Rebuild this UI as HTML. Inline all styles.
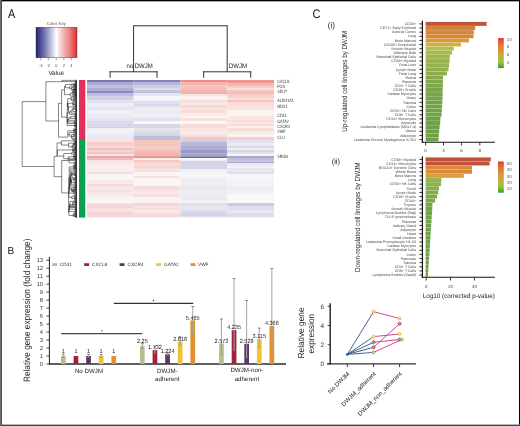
<!DOCTYPE html>
<html><head><meta charset="utf-8"><style>
html,body{margin:0;padding:0;background:#fff;}
body{width:520px;height:426px;overflow:hidden;}
svg{display:block;font-family:"Liberation Sans", sans-serif;opacity:0.999;text-rendering:geometricPrecision;}
</style></head><body>
<svg width="520" height="426" viewBox="0 0 520 426">
<rect x="0" y="0" width="520" height="426" fill="#fff"/>
<text transform="translate(8.1,17.8) scale(0.86,1)" font-size="12.6" fill="#111">A</text>
<defs><linearGradient id="ck" x1="0" x2="1" y1="0" y2="0"><stop offset="0" stop-color="#222270"/><stop offset="0.22" stop-color="#7a7ab4"/><stop offset="0.5" stop-color="#ffffff"/><stop offset="0.62" stop-color="#f4c8c8"/><stop offset="0.82" stop-color="#ec8080"/><stop offset="1" stop-color="#e02a2a"/></linearGradient><linearGradient id="cb" x1="0" x2="0" y1="0" y2="1"><stop offset="0" stop-color="#e0302a"/><stop offset="0.08" stop-color="#e4562e"/><stop offset="0.3" stop-color="#e0843c"/><stop offset="0.55" stop-color="#ccaa40"/><stop offset="0.8" stop-color="#9ec43c"/><stop offset="0.95" stop-color="#50a83a"/><stop offset="1" stop-color="#2e9a3a"/></linearGradient></defs>
<rect x="36.00" y="27.20" width="41.00" height="30.60" fill="url(#ck)" />
<rect x="36" y="27.2" width="41" height="30.6" fill="none" stroke="#333" stroke-width="0.4"/>
<text x="56.40" y="24.60" font-size="4.4" fill="#555" text-anchor="middle" >Color Key</text>
<line x1="40.70" y1="58.00" x2="40.70" y2="60.20" stroke="#444" stroke-width="0.5" />
<text x="40.70" y="66.60" font-size="4.3" fill="#555" text-anchor="middle" >-4</text>
<line x1="48.30" y1="58.00" x2="48.30" y2="60.20" stroke="#444" stroke-width="0.5" />
<text x="48.30" y="66.60" font-size="4.3" fill="#555" text-anchor="middle" >-2</text>
<line x1="56.30" y1="58.00" x2="56.30" y2="60.20" stroke="#444" stroke-width="0.5" />
<text x="56.30" y="66.60" font-size="4.3" fill="#555" text-anchor="middle" >0</text>
<line x1="63.90" y1="58.00" x2="63.90" y2="60.20" stroke="#444" stroke-width="0.5" />
<text x="63.90" y="66.60" font-size="4.3" fill="#555" text-anchor="middle" >2</text>
<line x1="71.30" y1="58.00" x2="71.30" y2="60.20" stroke="#444" stroke-width="0.5" />
<text x="71.30" y="66.60" font-size="4.3" fill="#555" text-anchor="middle" >4</text>
<text x="56.20" y="75.20" font-size="6.3" fill="#222" text-anchor="middle" >Value</text>
<line x1="133.60" y1="25.80" x2="227.20" y2="25.80" stroke="#333" stroke-width="1" />
<line x1="133.60" y1="25.30" x2="133.60" y2="72.00" stroke="#333" stroke-width="1" />
<line x1="227.20" y1="25.30" x2="227.20" y2="72.00" stroke="#333" stroke-width="1" />
<line x1="109.60" y1="71.80" x2="157.50" y2="71.80" stroke="#333" stroke-width="1" />
<line x1="110.10" y1="71.30" x2="110.10" y2="77.80" stroke="#333" stroke-width="1" />
<line x1="157.00" y1="71.30" x2="157.00" y2="77.80" stroke="#333" stroke-width="1" />
<line x1="203.20" y1="71.80" x2="251.20" y2="71.80" stroke="#333" stroke-width="1" />
<line x1="203.70" y1="71.30" x2="203.70" y2="77.80" stroke="#333" stroke-width="1" />
<line x1="250.70" y1="71.30" x2="250.70" y2="77.80" stroke="#333" stroke-width="1" />
<text x="126.40" y="67.80" font-size="6.5" fill="#222" text-anchor="start" textLength="26.4" lengthAdjust="spacingAndGlyphs">no DWJM</text>
<text x="228.80" y="67.80" font-size="6.5" fill="#222" text-anchor="start" textLength="18.4" lengthAdjust="spacingAndGlyphs">DWJM</text>
<defs><filter id="hb" x="-5%" y="-5%" width="110%" height="110%"><feGaussianBlur stdDeviation="0 0.45"/></filter><clipPath id="hc"><rect x="87" y="80" width="187" height="137.6"/></clipPath></defs>
<g clip-path="url(#hc)"><g filter="url(#hb)">
<rect x="87.00" y="80.00" width="46.75" height="2.05" fill="#7676b3" />
<rect x="87.00" y="82.00" width="46.75" height="3.05" fill="#ababd2" />
<rect x="87.00" y="85.00" width="46.75" height="3.05" fill="#bebedd" />
<rect x="87.00" y="88.00" width="46.75" height="3.05" fill="#afafd6" />
<rect x="87.00" y="91.00" width="46.75" height="2.05" fill="#8a8ac1" />
<rect x="87.00" y="93.00" width="46.75" height="3.05" fill="#bebedf" />
<rect x="87.00" y="96.00" width="46.75" height="4.05" fill="#d0d0e6" />
<rect x="87.00" y="100.00" width="46.75" height="3.05" fill="#e2e2ef" />
<rect x="87.00" y="103.00" width="46.75" height="4.05" fill="#edebf3" />
<rect x="87.00" y="107.00" width="46.75" height="3.05" fill="#e6e4f0" />
<rect x="87.00" y="110.00" width="46.75" height="4.05" fill="#f1eff5" />
<rect x="87.00" y="114.00" width="46.75" height="4.05" fill="#ebe9f2" />
<rect x="87.00" y="118.00" width="46.75" height="3.05" fill="#e6e4f0" />
<rect x="87.00" y="121.00" width="46.75" height="3.05" fill="#dbdaec" />
<rect x="87.00" y="124.00" width="46.75" height="3.05" fill="#d7d7ea" />
<rect x="87.00" y="127.00" width="46.75" height="1.05" fill="#d3d3e7" />
<rect x="87.00" y="128.00" width="46.75" height="6.05" fill="#f2f0f5" />
<rect x="87.00" y="134.00" width="46.75" height="6.05" fill="#eae8f1" />
<rect x="87.00" y="140.00" width="46.75" height="2.05" fill="#f9e2e2" />
<rect x="87.00" y="142.00" width="46.75" height="4.05" fill="#f5cccc" />
<rect x="87.00" y="146.00" width="46.75" height="2.05" fill="#f9dbdb" />
<rect x="87.00" y="148.00" width="46.75" height="2.05" fill="#f1bebe" />
<rect x="87.00" y="150.00" width="46.75" height="2.05" fill="#f7d4d4" />
<rect x="87.00" y="152.00" width="46.75" height="2.05" fill="#f1c5c5" />
<rect x="87.00" y="154.00" width="46.75" height="2.05" fill="#f9e2e2" />
<rect x="87.00" y="156.00" width="46.75" height="2.55" fill="#eea2a2" />
<rect x="87.00" y="158.50" width="46.75" height="1.55" fill="#f1b6b6" />
<rect x="87.00" y="160.00" width="46.75" height="3.05" fill="#f9e2e2" />
<rect x="87.00" y="163.00" width="46.75" height="3.05" fill="#faeaea" />
<rect x="87.00" y="166.00" width="46.75" height="6.05" fill="#f9eeee" />
<rect x="87.00" y="172.00" width="46.75" height="2.05" fill="#f7dbdb" />
<rect x="87.00" y="174.00" width="46.75" height="6.05" fill="#faf5f5" />
<rect x="87.00" y="180.00" width="46.75" height="4.05" fill="#f9eaea" />
<rect x="87.00" y="184.00" width="46.75" height="2.05" fill="#f7d7d7" />
<rect x="87.00" y="186.00" width="46.75" height="4.05" fill="#f9e6e6" />
<rect x="87.00" y="190.00" width="46.75" height="2.05" fill="#f7dfdf" />
<rect x="87.00" y="192.00" width="46.75" height="4.05" fill="#f9eaea" />
<rect x="87.00" y="196.00" width="46.75" height="4.05" fill="#faf1f1" />
<rect x="87.00" y="200.00" width="46.75" height="3.55" fill="#faf7f7" />
<rect x="87.00" y="203.50" width="46.75" height="4.55" fill="#f9d4d4" />
<rect x="87.00" y="208.00" width="46.75" height="4.05" fill="#f7e1e1" />
<rect x="87.00" y="212.00" width="46.75" height="2.05" fill="#f7d4d4" />
<rect x="87.00" y="214.00" width="46.75" height="3.65" fill="#f7d7d7" />
<rect x="133.75" y="80.00" width="46.75" height="2.05" fill="#8383ba" />
<rect x="133.75" y="82.00" width="46.75" height="3.05" fill="#b6b6d7" />
<rect x="133.75" y="85.00" width="46.75" height="3.05" fill="#cccce2" />
<rect x="133.75" y="88.00" width="46.75" height="2.05" fill="#dbdbec" />
<rect x="133.75" y="90.00" width="46.75" height="2.05" fill="#c5c5df" />
<rect x="133.75" y="92.00" width="46.75" height="1.05" fill="#bebedb" />
<rect x="133.75" y="93.00" width="46.75" height="3.05" fill="#e6e6ef" />
<rect x="133.75" y="96.00" width="46.75" height="3.05" fill="#f7f7f9" />
<rect x="133.75" y="99.00" width="46.75" height="2.05" fill="#f1f1f5" />
<rect x="133.75" y="101.00" width="46.75" height="3.05" fill="#dfdfee" />
<rect x="133.75" y="104.00" width="46.75" height="2.05" fill="#d9d9ea" />
<rect x="133.75" y="106.00" width="46.75" height="2.05" fill="#e6e5f0" />
<rect x="133.75" y="108.00" width="46.75" height="3.05" fill="#f0eef4" />
<rect x="133.75" y="111.00" width="46.75" height="3.05" fill="#eae8f1" />
<rect x="133.75" y="114.00" width="46.75" height="2.05" fill="#f3f1f6" />
<rect x="133.75" y="116.00" width="46.75" height="2.05" fill="#edebf3" />
<rect x="133.75" y="118.00" width="46.75" height="3.05" fill="#e2e2ee" />
<rect x="133.75" y="121.00" width="46.75" height="1.05" fill="#f5f5f7" />
<rect x="133.75" y="122.00" width="46.75" height="2.05" fill="#fafafa" />
<rect x="133.75" y="124.00" width="46.75" height="4.05" fill="#d7d7e8" />
<rect x="133.75" y="128.00" width="46.75" height="2.05" fill="#e6e6ef" />
<rect x="133.75" y="130.00" width="46.75" height="3.05" fill="#dfdfec" />
<rect x="133.75" y="133.00" width="46.75" height="3.05" fill="#d7d7e8" />
<rect x="133.75" y="136.00" width="46.75" height="4.05" fill="#bebedb" />
<rect x="133.75" y="140.00" width="46.75" height="6.05" fill="#f5c5be" />
<rect x="133.75" y="146.00" width="46.75" height="4.05" fill="#f5ccc5" />
<rect x="133.75" y="150.00" width="46.75" height="3.05" fill="#f3beb6" />
<rect x="133.75" y="153.00" width="46.75" height="3.05" fill="#f1b6af" />
<rect x="133.75" y="156.00" width="46.75" height="2.35" fill="#ef978e" />
<rect x="133.75" y="158.30" width="46.75" height="1.75" fill="#fbf5f3" />
<rect x="133.75" y="160.00" width="46.75" height="2.05" fill="#f5c9c1" />
<rect x="133.75" y="162.00" width="46.75" height="2.05" fill="#f7d4d0" />
<rect x="133.75" y="164.00" width="46.75" height="2.05" fill="#f9dbd7" />
<rect x="133.75" y="166.00" width="46.75" height="2.05" fill="#f7d4d0" />
<rect x="133.75" y="168.00" width="46.75" height="2.05" fill="#f9e2df" />
<rect x="133.75" y="170.00" width="46.75" height="2.05" fill="#f7dfdf" />
<rect x="133.75" y="172.00" width="46.75" height="4.05" fill="#faf5f3" />
<rect x="133.75" y="176.00" width="46.75" height="2.05" fill="#f7e2e2" />
<rect x="133.75" y="178.00" width="46.75" height="8.05" fill="#f9f5f3" />
<rect x="133.75" y="186.00" width="46.75" height="4.05" fill="#f7dbdb" />
<rect x="133.75" y="190.00" width="46.75" height="4.05" fill="#f9e6e6" />
<rect x="133.75" y="194.00" width="46.75" height="3.05" fill="#f7dfdf" />
<rect x="133.75" y="197.00" width="46.75" height="6.05" fill="#faf3f3" />
<rect x="133.75" y="203.00" width="46.75" height="3.05" fill="#f7d7d4" />
<rect x="133.75" y="206.00" width="46.75" height="2.05" fill="#f9e2e2" />
<rect x="133.75" y="208.00" width="46.75" height="2.05" fill="#f7dbdb" />
<rect x="133.75" y="210.00" width="46.75" height="3.05" fill="#f9e6e6" />
<rect x="133.75" y="213.00" width="46.75" height="4.65" fill="#f7dbdb" />
<rect x="180.50" y="80.00" width="46.75" height="2.05" fill="#f18a8a" />
<rect x="180.50" y="82.00" width="46.75" height="3.05" fill="#f5b6af" />
<rect x="180.50" y="85.00" width="46.75" height="3.05" fill="#f5c5be" />
<rect x="180.50" y="88.00" width="46.75" height="2.05" fill="#f5beb6" />
<rect x="180.50" y="90.00" width="46.75" height="3.05" fill="#f3b6af" />
<rect x="180.50" y="93.00" width="46.75" height="1.05" fill="#f1afa8" />
<rect x="180.50" y="94.00" width="46.75" height="2.05" fill="#fae7e4" />
<rect x="180.50" y="96.00" width="46.75" height="4.05" fill="#fbf3f2" />
<rect x="180.50" y="100.00" width="46.75" height="3.05" fill="#f8ddda" />
<rect x="180.50" y="103.00" width="46.75" height="2.05" fill="#faeae7" />
<rect x="180.50" y="105.00" width="46.75" height="3.05" fill="#f6d7d4" />
<rect x="180.50" y="108.00" width="46.75" height="2.05" fill="#fae7e4" />
<rect x="180.50" y="110.00" width="46.75" height="3.05" fill="#f8dad7" />
<rect x="180.50" y="113.00" width="46.75" height="3.05" fill="#faeae7" />
<rect x="180.50" y="116.00" width="46.75" height="2.05" fill="#fbf5f3" />
<rect x="180.50" y="118.00" width="46.75" height="3.05" fill="#f8e1dd" />
<rect x="180.50" y="121.00" width="46.75" height="3.05" fill="#fbf6f5" />
<rect x="180.50" y="124.00" width="46.75" height="4.05" fill="#f8dad7" />
<rect x="180.50" y="128.00" width="46.75" height="3.05" fill="#fae4e1" />
<rect x="180.50" y="131.00" width="46.75" height="4.05" fill="#faeae7" />
<rect x="180.50" y="135.00" width="46.75" height="2.05" fill="#f8dad7" />
<rect x="180.50" y="137.00" width="46.75" height="3.05" fill="#f5c5c1" />
<rect x="180.50" y="140.00" width="46.75" height="2.05" fill="#cecee4" />
<rect x="180.50" y="142.00" width="46.75" height="4.05" fill="#b8b8d8" />
<rect x="180.50" y="146.00" width="46.75" height="3.45" fill="#adadd2" />
<rect x="180.50" y="149.40" width="46.75" height="3.95" fill="#9999c7" />
<rect x="180.50" y="153.30" width="46.75" height="3.35" fill="#a2a2cc" />
<rect x="180.50" y="156.60" width="46.75" height="1.45" fill="#5a5aa0" />
<rect x="180.50" y="157.90" width="46.75" height="2.75" fill="#f9f9fa" />
<rect x="180.50" y="160.60" width="46.75" height="8.45" fill="#d4d4e6" />
<rect x="180.50" y="169.00" width="46.75" height="3.05" fill="#f1f1f5" />
<rect x="180.50" y="172.00" width="46.75" height="6.05" fill="#f8f5f7" />
<rect x="180.50" y="178.00" width="46.75" height="8.05" fill="#efedf3" />
<rect x="180.50" y="186.00" width="46.75" height="4.05" fill="#e8e6ef" />
<rect x="180.50" y="190.00" width="46.75" height="6.05" fill="#efedf3" />
<rect x="180.50" y="196.00" width="46.75" height="4.05" fill="#ece9f1" />
<rect x="180.50" y="200.00" width="46.75" height="3.05" fill="#f5f2f5" />
<rect x="180.50" y="203.00" width="46.75" height="3.05" fill="#dfdfee" />
<rect x="180.50" y="206.00" width="46.75" height="4.05" fill="#e6e6ef" />
<rect x="180.50" y="210.00" width="46.75" height="3.05" fill="#dbdbec" />
<rect x="180.50" y="213.00" width="46.75" height="3.05" fill="#d4d4e8" />
<rect x="180.50" y="216.00" width="46.75" height="1.65" fill="#e2e2ee" />
<rect x="227.25" y="80.00" width="46.75" height="3.05" fill="#f19292" />
<rect x="227.25" y="83.00" width="46.75" height="3.05" fill="#f5b6af" />
<rect x="227.25" y="86.00" width="46.75" height="2.05" fill="#f7ccc9" />
<rect x="227.25" y="88.00" width="46.75" height="2.05" fill="#f9dfdb" />
<rect x="227.25" y="90.00" width="46.75" height="2.05" fill="#f7c5c1" />
<rect x="227.25" y="92.00" width="46.75" height="2.05" fill="#f5bab6" />
<rect x="227.25" y="94.00" width="46.75" height="4.05" fill="#f7d0cc" />
<rect x="227.25" y="98.00" width="46.75" height="2.05" fill="#f9dfdb" />
<rect x="227.25" y="100.00" width="46.75" height="2.05" fill="#f5c1be" />
<rect x="227.25" y="102.00" width="46.75" height="4.05" fill="#f9dbd7" />
<rect x="227.25" y="106.00" width="46.75" height="4.05" fill="#f9e2df" />
<rect x="227.25" y="110.00" width="46.75" height="6.05" fill="#faf3f1" />
<rect x="227.25" y="116.00" width="46.75" height="4.05" fill="#f9e6e2" />
<rect x="227.25" y="120.00" width="46.75" height="2.05" fill="#f7dfdb" />
<rect x="227.25" y="122.00" width="46.75" height="2.05" fill="#f9e6e2" />
<rect x="227.25" y="124.00" width="46.75" height="2.05" fill="#f7dbd7" />
<rect x="227.25" y="126.00" width="46.75" height="2.05" fill="#faf1ef" />
<rect x="227.25" y="128.00" width="46.75" height="3.05" fill="#f7dbd7" />
<rect x="227.25" y="131.00" width="46.75" height="3.05" fill="#f9eae6" />
<rect x="227.25" y="134.00" width="46.75" height="3.05" fill="#faf5f3" />
<rect x="227.25" y="137.00" width="46.75" height="3.05" fill="#f7ccc9" />
<rect x="227.25" y="140.00" width="46.75" height="3.05" fill="#e2e2ef" />
<rect x="227.25" y="143.00" width="46.75" height="3.05" fill="#eaeaf1" />
<rect x="227.25" y="146.00" width="46.75" height="2.05" fill="#dbdbec" />
<rect x="227.25" y="148.00" width="46.75" height="2.05" fill="#eeeef3" />
<rect x="227.25" y="150.00" width="46.75" height="2.05" fill="#d4d4e6" />
<rect x="227.25" y="152.00" width="46.75" height="2.05" fill="#e2e2ee" />
<rect x="227.25" y="154.00" width="46.75" height="2.05" fill="#f5f5f7" />
<rect x="227.25" y="156.00" width="46.75" height="2.05" fill="#a8a8d0" />
<rect x="227.25" y="158.00" width="46.75" height="2.05" fill="#bebedb" />
<rect x="227.25" y="160.00" width="46.75" height="2.05" fill="#c5c5df" />
<rect x="227.25" y="162.00" width="46.75" height="1.05" fill="#a8a8d0" />
<rect x="227.25" y="163.00" width="46.75" height="3.05" fill="#eaeaf1" />
<rect x="227.25" y="166.00" width="46.75" height="2.05" fill="#f1f1f5" />
<rect x="227.25" y="168.00" width="46.75" height="4.05" fill="#e6e6ef" />
<rect x="227.25" y="172.00" width="46.75" height="2.05" fill="#dfdfee" />
<rect x="227.25" y="174.00" width="46.75" height="6.05" fill="#f8f5f7" />
<rect x="227.25" y="180.00" width="46.75" height="6.05" fill="#f5f2f5" />
<rect x="227.25" y="186.00" width="46.75" height="4.05" fill="#efedf3" />
<rect x="227.25" y="190.00" width="46.75" height="4.05" fill="#f2eff4" />
<rect x="227.25" y="194.00" width="46.75" height="6.05" fill="#f9f7f8" />
<rect x="227.25" y="200.00" width="46.75" height="3.05" fill="#faf9fa" />
<rect x="227.25" y="203.00" width="46.75" height="3.05" fill="#cccce4" />
<rect x="227.25" y="206.00" width="46.75" height="4.05" fill="#dfdfee" />
<rect x="227.25" y="210.00" width="46.75" height="3.05" fill="#e6e6ef" />
<rect x="227.25" y="213.00" width="46.75" height="3.05" fill="#dbdbec" />
<rect x="227.25" y="216.00" width="46.75" height="1.65" fill="#dfdfee" />
</g></g>
<rect x="79.00" y="80.00" width="6.30" height="60.00" fill="#e2305a" />
<rect x="79.00" y="140.00" width="6.30" height="77.60" fill="#0e9f52" />
<text transform="translate(277.2,83.2) scale(0.8,1)" font-size="4.7" fill="#333">CXCL8</text>
<text transform="translate(277.2,88.1) scale(0.8,1)" font-size="4.7" fill="#333">FOS</text>
<text transform="translate(277.2,92.7) scale(0.8,1)" font-size="4.7" fill="#333">SELP</text>
<text transform="translate(277.2,102.3) scale(0.8,1)" font-size="4.7" fill="#333">ALDH1A1</text>
<text transform="translate(277.2,108.3) scale(0.8,1)" font-size="4.7" fill="#333">MDS1</text>
<text transform="translate(277.2,117.0) scale(0.8,1)" font-size="4.7" fill="#333">CD41</text>
<text transform="translate(277.2,122.6) scale(0.8,1)" font-size="4.7" fill="#333">GATA2</text>
<text transform="translate(277.2,128.0) scale(0.8,1)" font-size="4.7" fill="#333">CXCR4</text>
<text transform="translate(277.2,133.1) scale(0.8,1)" font-size="4.7" fill="#333">VWF</text>
<text transform="translate(277.2,138.6) scale(0.8,1)" font-size="4.7" fill="#333">CLU</text>
<text transform="translate(277.2,158.2) scale(0.8,1)" font-size="4.7" fill="#333">SRGN</text>
<g stroke="#000" stroke-width="0.48" stroke-linecap="butt">
<line x1="75.57" y1="80.18" x2="75.57" y2="80.53"/>
<line x1="75.57" y1="80.18" x2="76.90" y2="80.18"/>
<line x1="75.57" y1="80.53" x2="76.90" y2="80.53"/>
<line x1="76.21" y1="80.89" x2="76.21" y2="81.24"/>
<line x1="76.21" y1="80.89" x2="76.90" y2="80.89"/>
<line x1="76.21" y1="81.24" x2="76.90" y2="81.24"/>
<line x1="76.44" y1="81.96" x2="76.44" y2="82.31"/>
<line x1="76.44" y1="81.96" x2="76.90" y2="81.96"/>
<line x1="76.44" y1="82.31" x2="76.90" y2="82.31"/>
<line x1="76.09" y1="82.13" x2="76.09" y2="82.67"/>
<line x1="76.09" y1="82.13" x2="76.44" y2="82.13"/>
<line x1="76.09" y1="82.67" x2="76.90" y2="82.67"/>
<line x1="75.74" y1="82.40" x2="75.74" y2="83.02"/>
<line x1="75.74" y1="82.40" x2="76.09" y2="82.40"/>
<line x1="75.74" y1="83.02" x2="76.90" y2="83.02"/>
<line x1="75.39" y1="81.60" x2="75.39" y2="82.71"/>
<line x1="75.39" y1="81.60" x2="76.90" y2="81.60"/>
<line x1="75.39" y1="82.71" x2="75.74" y2="82.71"/>
<line x1="75.04" y1="81.07" x2="75.04" y2="82.16"/>
<line x1="75.04" y1="81.07" x2="76.21" y2="81.07"/>
<line x1="75.04" y1="82.16" x2="75.39" y2="82.16"/>
<line x1="62.00" y1="80.36" x2="62.00" y2="81.70"/>
<line x1="62.00" y1="80.36" x2="75.57" y2="80.36"/>
<line x1="62.00" y1="81.61" x2="75.04" y2="81.61"/>
<line x1="75.85" y1="83.37" x2="75.85" y2="83.70"/>
<line x1="75.85" y1="83.37" x2="76.90" y2="83.37"/>
<line x1="75.85" y1="83.70" x2="76.90" y2="83.70"/>
<line x1="75.28" y1="83.54" x2="75.28" y2="84.04"/>
<line x1="75.28" y1="83.54" x2="75.85" y2="83.54"/>
<line x1="75.28" y1="84.04" x2="76.90" y2="84.04"/>
<line x1="73.58" y1="83.79" x2="73.58" y2="84.38"/>
<line x1="73.58" y1="83.79" x2="75.28" y2="83.79"/>
<line x1="73.58" y1="84.38" x2="76.90" y2="84.38"/>
<line x1="75.55" y1="85.05" x2="75.55" y2="85.39"/>
<line x1="75.55" y1="85.05" x2="76.90" y2="85.05"/>
<line x1="75.55" y1="85.39" x2="76.90" y2="85.39"/>
<line x1="74.01" y1="85.22" x2="74.01" y2="85.72"/>
<line x1="74.01" y1="85.22" x2="75.55" y2="85.22"/>
<line x1="74.01" y1="85.72" x2="76.90" y2="85.72"/>
<line x1="73.66" y1="84.71" x2="73.66" y2="85.47"/>
<line x1="73.66" y1="84.71" x2="76.90" y2="84.71"/>
<line x1="73.66" y1="85.47" x2="74.01" y2="85.47"/>
<line x1="71.16" y1="84.08" x2="71.16" y2="85.09"/>
<line x1="71.16" y1="84.08" x2="73.58" y2="84.08"/>
<line x1="71.16" y1="85.09" x2="73.66" y2="85.09"/>
<line x1="75.48" y1="86.06" x2="75.48" y2="86.40"/>
<line x1="75.48" y1="86.06" x2="76.90" y2="86.06"/>
<line x1="75.48" y1="86.40" x2="76.90" y2="86.40"/>
<line x1="75.13" y1="86.23" x2="75.13" y2="86.73"/>
<line x1="75.13" y1="86.23" x2="75.48" y2="86.23"/>
<line x1="75.13" y1="86.73" x2="76.90" y2="86.73"/>
<line x1="73.85" y1="86.48" x2="73.85" y2="87.07"/>
<line x1="73.85" y1="86.48" x2="75.13" y2="86.48"/>
<line x1="73.85" y1="87.07" x2="76.90" y2="87.07"/>
<line x1="75.75" y1="87.41" x2="75.75" y2="87.74"/>
<line x1="75.75" y1="87.41" x2="76.90" y2="87.41"/>
<line x1="75.75" y1="87.74" x2="76.90" y2="87.74"/>
<line x1="75.51" y1="88.42" x2="75.51" y2="88.75"/>
<line x1="75.51" y1="88.42" x2="76.90" y2="88.42"/>
<line x1="75.51" y1="88.75" x2="76.90" y2="88.75"/>
<line x1="74.86" y1="88.08" x2="74.86" y2="88.59"/>
<line x1="74.86" y1="88.08" x2="76.90" y2="88.08"/>
<line x1="74.86" y1="88.59" x2="75.51" y2="88.59"/>
<line x1="74.10" y1="88.33" x2="74.10" y2="89.09"/>
<line x1="74.10" y1="88.33" x2="74.86" y2="88.33"/>
<line x1="74.10" y1="89.09" x2="76.90" y2="89.09"/>
<line x1="73.75" y1="88.71" x2="73.75" y2="89.43"/>
<line x1="73.75" y1="88.71" x2="74.10" y2="88.71"/>
<line x1="73.75" y1="89.43" x2="76.90" y2="89.43"/>
<line x1="73.40" y1="89.07" x2="73.40" y2="89.76"/>
<line x1="73.40" y1="89.07" x2="73.75" y2="89.07"/>
<line x1="73.40" y1="89.76" x2="76.90" y2="89.76"/>
<line x1="75.76" y1="90.44" x2="75.76" y2="90.77"/>
<line x1="75.76" y1="90.44" x2="76.90" y2="90.44"/>
<line x1="75.76" y1="90.77" x2="76.90" y2="90.77"/>
<line x1="73.89" y1="90.10" x2="73.89" y2="90.60"/>
<line x1="73.89" y1="90.10" x2="76.90" y2="90.10"/>
<line x1="73.89" y1="90.60" x2="75.76" y2="90.60"/>
<line x1="71.96" y1="89.42" x2="71.96" y2="90.35"/>
<line x1="71.96" y1="89.42" x2="73.40" y2="89.42"/>
<line x1="71.96" y1="90.35" x2="73.89" y2="90.35"/>
<line x1="71.61" y1="87.58" x2="71.61" y2="89.88"/>
<line x1="71.61" y1="87.58" x2="75.75" y2="87.58"/>
<line x1="71.61" y1="89.88" x2="71.96" y2="89.88"/>
<line x1="69.37" y1="86.78" x2="69.37" y2="88.73"/>
<line x1="69.37" y1="86.78" x2="73.85" y2="86.78"/>
<line x1="69.37" y1="88.73" x2="71.61" y2="88.73"/>
<line x1="65.45" y1="84.59" x2="65.45" y2="87.75"/>
<line x1="65.45" y1="84.59" x2="71.16" y2="84.59"/>
<line x1="65.45" y1="87.75" x2="69.37" y2="87.75"/>
<line x1="75.49" y1="91.45" x2="75.49" y2="91.78"/>
<line x1="75.49" y1="91.45" x2="76.90" y2="91.45"/>
<line x1="75.49" y1="91.78" x2="76.90" y2="91.78"/>
<line x1="75.42" y1="92.79" x2="75.42" y2="93.13"/>
<line x1="75.42" y1="92.79" x2="76.90" y2="92.79"/>
<line x1="75.42" y1="93.13" x2="76.90" y2="93.13"/>
<line x1="75.07" y1="92.46" x2="75.07" y2="92.96"/>
<line x1="75.07" y1="92.46" x2="76.90" y2="92.46"/>
<line x1="75.07" y1="92.96" x2="75.42" y2="92.96"/>
<line x1="74.72" y1="92.12" x2="74.72" y2="92.71"/>
<line x1="74.72" y1="92.12" x2="76.90" y2="92.12"/>
<line x1="74.72" y1="92.71" x2="75.07" y2="92.71"/>
<line x1="73.62" y1="91.61" x2="73.62" y2="92.41"/>
<line x1="73.62" y1="91.61" x2="75.49" y2="91.61"/>
<line x1="73.62" y1="92.41" x2="74.72" y2="92.41"/>
<line x1="75.07" y1="93.47" x2="75.07" y2="93.80"/>
<line x1="75.07" y1="93.47" x2="76.90" y2="93.47"/>
<line x1="75.07" y1="93.80" x2="76.90" y2="93.80"/>
<line x1="73.27" y1="92.01" x2="73.27" y2="93.63"/>
<line x1="73.27" y1="92.01" x2="73.62" y2="92.01"/>
<line x1="73.27" y1="93.63" x2="75.07" y2="93.63"/>
<line x1="72.92" y1="91.11" x2="72.92" y2="92.82"/>
<line x1="72.92" y1="91.11" x2="76.90" y2="91.11"/>
<line x1="72.92" y1="92.82" x2="73.27" y2="92.82"/>
<line x1="75.52" y1="94.48" x2="75.52" y2="94.81"/>
<line x1="75.52" y1="94.48" x2="76.90" y2="94.48"/>
<line x1="75.52" y1="94.81" x2="76.90" y2="94.81"/>
<line x1="73.88" y1="94.14" x2="73.88" y2="94.64"/>
<line x1="73.88" y1="94.14" x2="76.90" y2="94.14"/>
<line x1="73.88" y1="94.64" x2="75.52" y2="94.64"/>
<line x1="72.28" y1="91.97" x2="72.28" y2="94.39"/>
<line x1="72.28" y1="91.97" x2="72.92" y2="91.97"/>
<line x1="72.28" y1="94.39" x2="73.88" y2="94.39"/>
<line x1="75.65" y1="95.49" x2="75.65" y2="95.82"/>
<line x1="75.65" y1="95.49" x2="76.90" y2="95.49"/>
<line x1="75.65" y1="95.82" x2="76.90" y2="95.82"/>
<line x1="75.30" y1="95.65" x2="75.30" y2="96.16"/>
<line x1="75.30" y1="95.65" x2="75.65" y2="95.65"/>
<line x1="75.30" y1="96.16" x2="76.90" y2="96.16"/>
<line x1="74.95" y1="95.15" x2="74.95" y2="95.91"/>
<line x1="74.95" y1="95.15" x2="76.90" y2="95.15"/>
<line x1="74.95" y1="95.91" x2="75.30" y2="95.91"/>
<line x1="74.68" y1="96.50" x2="74.68" y2="96.83"/>
<line x1="74.68" y1="96.50" x2="76.90" y2="96.50"/>
<line x1="74.68" y1="96.83" x2="76.90" y2="96.83"/>
<line x1="73.05" y1="95.53" x2="73.05" y2="96.66"/>
<line x1="73.05" y1="95.53" x2="74.95" y2="95.53"/>
<line x1="73.05" y1="96.66" x2="74.68" y2="96.66"/>
<line x1="70.23" y1="93.18" x2="70.23" y2="96.10"/>
<line x1="70.23" y1="93.18" x2="72.28" y2="93.18"/>
<line x1="70.23" y1="96.10" x2="73.05" y2="96.10"/>
<line x1="64.50" y1="86.17" x2="64.50" y2="94.64"/>
<line x1="64.50" y1="86.17" x2="65.45" y2="86.17"/>
<line x1="64.50" y1="94.64" x2="70.23" y2="94.64"/>
<line x1="75.62" y1="97.17" x2="75.62" y2="97.51"/>
<line x1="75.62" y1="97.17" x2="76.90" y2="97.17"/>
<line x1="75.62" y1="97.51" x2="76.90" y2="97.51"/>
<line x1="76.12" y1="97.85" x2="76.12" y2="98.19"/>
<line x1="76.12" y1="97.85" x2="76.90" y2="97.85"/>
<line x1="76.12" y1="98.19" x2="76.90" y2="98.19"/>
<line x1="76.30" y1="98.86" x2="76.30" y2="99.20"/>
<line x1="76.30" y1="98.86" x2="76.90" y2="98.86"/>
<line x1="76.30" y1="99.20" x2="76.90" y2="99.20"/>
<line x1="75.95" y1="98.53" x2="75.95" y2="99.03"/>
<line x1="75.95" y1="98.53" x2="76.90" y2="98.53"/>
<line x1="75.95" y1="99.03" x2="76.30" y2="99.03"/>
<line x1="74.76" y1="98.78" x2="74.76" y2="99.54"/>
<line x1="74.76" y1="98.78" x2="75.95" y2="98.78"/>
<line x1="74.76" y1="99.54" x2="76.90" y2="99.54"/>
<line x1="74.27" y1="98.02" x2="74.27" y2="99.16"/>
<line x1="74.27" y1="98.02" x2="76.12" y2="98.02"/>
<line x1="74.27" y1="99.16" x2="74.76" y2="99.16"/>
<line x1="75.44" y1="99.88" x2="75.44" y2="100.22"/>
<line x1="75.44" y1="99.88" x2="76.90" y2="99.88"/>
<line x1="75.44" y1="100.22" x2="76.90" y2="100.22"/>
<line x1="73.81" y1="98.59" x2="73.81" y2="100.05"/>
<line x1="73.81" y1="98.59" x2="74.27" y2="98.59"/>
<line x1="73.81" y1="100.05" x2="75.44" y2="100.05"/>
<line x1="75.81" y1="100.56" x2="75.81" y2="100.90"/>
<line x1="75.81" y1="100.56" x2="76.90" y2="100.56"/>
<line x1="75.81" y1="100.90" x2="76.90" y2="100.90"/>
<line x1="71.64" y1="99.32" x2="71.64" y2="100.73"/>
<line x1="71.64" y1="99.32" x2="73.81" y2="99.32"/>
<line x1="71.64" y1="100.73" x2="75.81" y2="100.73"/>
<line x1="71.10" y1="97.34" x2="71.10" y2="100.02"/>
<line x1="71.10" y1="97.34" x2="75.62" y2="97.34"/>
<line x1="71.10" y1="100.02" x2="71.64" y2="100.02"/>
<line x1="76.11" y1="101.24" x2="76.11" y2="101.57"/>
<line x1="76.11" y1="101.24" x2="76.90" y2="101.24"/>
<line x1="76.11" y1="101.57" x2="76.90" y2="101.57"/>
<line x1="75.76" y1="101.41" x2="75.76" y2="101.91"/>
<line x1="75.76" y1="101.41" x2="76.11" y2="101.41"/>
<line x1="75.76" y1="101.91" x2="76.90" y2="101.91"/>
<line x1="75.79" y1="102.25" x2="75.79" y2="102.59"/>
<line x1="75.79" y1="102.25" x2="76.90" y2="102.25"/>
<line x1="75.79" y1="102.59" x2="76.90" y2="102.59"/>
<line x1="76.01" y1="103.27" x2="76.01" y2="103.61"/>
<line x1="76.01" y1="103.27" x2="76.90" y2="103.27"/>
<line x1="76.01" y1="103.61" x2="76.90" y2="103.61"/>
<line x1="75.66" y1="102.93" x2="75.66" y2="103.44"/>
<line x1="75.66" y1="102.93" x2="76.90" y2="102.93"/>
<line x1="75.66" y1="103.44" x2="76.01" y2="103.44"/>
<line x1="74.80" y1="102.42" x2="74.80" y2="103.18"/>
<line x1="74.80" y1="102.42" x2="75.79" y2="102.42"/>
<line x1="74.80" y1="103.18" x2="75.66" y2="103.18"/>
<line x1="75.92" y1="103.95" x2="75.92" y2="104.29"/>
<line x1="75.92" y1="103.95" x2="76.90" y2="103.95"/>
<line x1="75.92" y1="104.29" x2="76.90" y2="104.29"/>
<line x1="76.26" y1="104.96" x2="76.26" y2="105.30"/>
<line x1="76.26" y1="104.96" x2="76.90" y2="104.96"/>
<line x1="76.26" y1="105.30" x2="76.90" y2="105.30"/>
<line x1="75.91" y1="104.62" x2="75.91" y2="105.13"/>
<line x1="75.91" y1="104.62" x2="76.90" y2="104.62"/>
<line x1="75.91" y1="105.13" x2="76.26" y2="105.13"/>
<line x1="75.07" y1="104.12" x2="75.07" y2="104.88"/>
<line x1="75.07" y1="104.12" x2="75.92" y2="104.12"/>
<line x1="75.07" y1="104.88" x2="75.91" y2="104.88"/>
<line x1="73.54" y1="102.80" x2="73.54" y2="104.50"/>
<line x1="73.54" y1="102.80" x2="74.80" y2="102.80"/>
<line x1="73.54" y1="104.50" x2="75.07" y2="104.50"/>
<line x1="75.42" y1="105.64" x2="75.42" y2="105.98"/>
<line x1="75.42" y1="105.64" x2="76.90" y2="105.64"/>
<line x1="75.42" y1="105.98" x2="76.90" y2="105.98"/>
<line x1="75.00" y1="105.81" x2="75.00" y2="106.32"/>
<line x1="75.00" y1="105.81" x2="75.42" y2="105.81"/>
<line x1="75.00" y1="106.32" x2="76.90" y2="106.32"/>
<line x1="73.19" y1="103.65" x2="73.19" y2="106.07"/>
<line x1="73.19" y1="103.65" x2="73.54" y2="103.65"/>
<line x1="73.19" y1="106.07" x2="75.00" y2="106.07"/>
<line x1="72.84" y1="101.66" x2="72.84" y2="104.86"/>
<line x1="72.84" y1="101.66" x2="75.76" y2="101.66"/>
<line x1="72.84" y1="104.86" x2="73.19" y2="104.86"/>
<line x1="76.21" y1="107.34" x2="76.21" y2="107.67"/>
<line x1="76.21" y1="107.34" x2="76.90" y2="107.34"/>
<line x1="76.21" y1="107.67" x2="76.90" y2="107.67"/>
<line x1="75.86" y1="107.00" x2="75.86" y2="107.51"/>
<line x1="75.86" y1="107.00" x2="76.90" y2="107.00"/>
<line x1="75.86" y1="107.51" x2="76.21" y2="107.51"/>
<line x1="75.51" y1="106.66" x2="75.51" y2="107.25"/>
<line x1="75.51" y1="106.66" x2="76.90" y2="106.66"/>
<line x1="75.51" y1="107.25" x2="75.86" y2="107.25"/>
<line x1="76.19" y1="108.35" x2="76.19" y2="108.69"/>
<line x1="76.19" y1="108.35" x2="76.90" y2="108.35"/>
<line x1="76.19" y1="108.69" x2="76.90" y2="108.69"/>
<line x1="75.89" y1="109.03" x2="75.89" y2="109.37"/>
<line x1="75.89" y1="109.03" x2="76.90" y2="109.03"/>
<line x1="75.89" y1="109.37" x2="76.90" y2="109.37"/>
<line x1="76.36" y1="110.39" x2="76.36" y2="110.72"/>
<line x1="76.36" y1="110.39" x2="76.90" y2="110.39"/>
<line x1="76.36" y1="110.72" x2="76.90" y2="110.72"/>
<line x1="76.01" y1="110.05" x2="76.01" y2="110.56"/>
<line x1="76.01" y1="110.05" x2="76.90" y2="110.05"/>
<line x1="76.01" y1="110.56" x2="76.36" y2="110.56"/>
<line x1="75.58" y1="109.71" x2="75.58" y2="110.30"/>
<line x1="75.58" y1="109.71" x2="76.90" y2="109.71"/>
<line x1="75.58" y1="110.30" x2="76.01" y2="110.30"/>
<line x1="75.23" y1="109.20" x2="75.23" y2="110.00"/>
<line x1="75.23" y1="109.20" x2="75.89" y2="109.20"/>
<line x1="75.23" y1="110.00" x2="75.58" y2="110.00"/>
<line x1="74.88" y1="108.52" x2="74.88" y2="109.60"/>
<line x1="74.88" y1="108.52" x2="76.19" y2="108.52"/>
<line x1="74.88" y1="109.60" x2="75.23" y2="109.60"/>
<line x1="73.09" y1="108.01" x2="73.09" y2="109.06"/>
<line x1="73.09" y1="108.01" x2="76.90" y2="108.01"/>
<line x1="73.09" y1="109.06" x2="74.88" y2="109.06"/>
<line x1="76.26" y1="111.40" x2="76.26" y2="111.74"/>
<line x1="76.26" y1="111.40" x2="76.90" y2="111.40"/>
<line x1="76.26" y1="111.74" x2="76.90" y2="111.74"/>
<line x1="75.91" y1="111.57" x2="75.91" y2="112.08"/>
<line x1="75.91" y1="111.57" x2="76.26" y2="111.57"/>
<line x1="75.91" y1="112.08" x2="76.90" y2="112.08"/>
<line x1="75.18" y1="111.06" x2="75.18" y2="111.83"/>
<line x1="75.18" y1="111.06" x2="76.90" y2="111.06"/>
<line x1="75.18" y1="111.83" x2="75.91" y2="111.83"/>
<line x1="72.74" y1="108.54" x2="72.74" y2="111.45"/>
<line x1="72.74" y1="108.54" x2="73.09" y2="108.54"/>
<line x1="72.74" y1="111.45" x2="75.18" y2="111.45"/>
<line x1="76.25" y1="112.76" x2="76.25" y2="113.10"/>
<line x1="76.25" y1="112.76" x2="76.90" y2="112.76"/>
<line x1="76.25" y1="113.10" x2="76.90" y2="113.10"/>
<line x1="75.90" y1="112.42" x2="75.90" y2="112.93"/>
<line x1="75.90" y1="112.42" x2="76.90" y2="112.42"/>
<line x1="75.90" y1="112.93" x2="76.25" y2="112.93"/>
<line x1="75.55" y1="112.67" x2="75.55" y2="113.44"/>
<line x1="75.55" y1="112.67" x2="75.90" y2="112.67"/>
<line x1="75.55" y1="113.44" x2="76.90" y2="113.44"/>
<line x1="71.11" y1="109.99" x2="71.11" y2="113.05"/>
<line x1="71.11" y1="109.99" x2="72.74" y2="109.99"/>
<line x1="71.11" y1="113.05" x2="75.55" y2="113.05"/>
<line x1="75.95" y1="114.11" x2="75.95" y2="114.45"/>
<line x1="75.95" y1="114.11" x2="76.90" y2="114.11"/>
<line x1="75.95" y1="114.45" x2="76.90" y2="114.45"/>
<line x1="75.25" y1="113.78" x2="75.25" y2="114.28"/>
<line x1="75.25" y1="113.78" x2="76.90" y2="113.78"/>
<line x1="75.25" y1="114.28" x2="75.95" y2="114.28"/>
<line x1="74.54" y1="114.03" x2="74.54" y2="114.79"/>
<line x1="74.54" y1="114.03" x2="75.25" y2="114.03"/>
<line x1="74.54" y1="114.79" x2="76.90" y2="114.79"/>
<line x1="69.53" y1="111.52" x2="69.53" y2="114.41"/>
<line x1="69.53" y1="111.52" x2="71.11" y2="111.52"/>
<line x1="69.53" y1="114.41" x2="74.54" y2="114.41"/>
<line x1="68.40" y1="106.95" x2="68.40" y2="112.97"/>
<line x1="68.40" y1="106.95" x2="75.51" y2="106.95"/>
<line x1="68.40" y1="112.97" x2="69.53" y2="112.97"/>
<line x1="68.05" y1="103.26" x2="68.05" y2="109.96"/>
<line x1="68.05" y1="103.26" x2="72.84" y2="103.26"/>
<line x1="68.05" y1="109.96" x2="68.40" y2="109.96"/>
<line x1="67.70" y1="98.68" x2="67.70" y2="106.61"/>
<line x1="67.70" y1="98.68" x2="71.10" y2="98.68"/>
<line x1="67.70" y1="106.61" x2="68.05" y2="106.61"/>
<line x1="76.12" y1="115.47" x2="76.12" y2="115.81"/>
<line x1="76.12" y1="115.47" x2="76.90" y2="115.47"/>
<line x1="76.12" y1="115.81" x2="76.90" y2="115.81"/>
<line x1="75.77" y1="115.64" x2="75.77" y2="116.15"/>
<line x1="75.77" y1="115.64" x2="76.12" y2="115.64"/>
<line x1="75.77" y1="116.15" x2="76.90" y2="116.15"/>
<line x1="75.42" y1="115.13" x2="75.42" y2="115.89"/>
<line x1="75.42" y1="115.13" x2="76.90" y2="115.13"/>
<line x1="75.42" y1="115.89" x2="75.77" y2="115.89"/>
<line x1="75.07" y1="115.51" x2="75.07" y2="116.49"/>
<line x1="75.07" y1="115.51" x2="75.42" y2="115.51"/>
<line x1="75.07" y1="116.49" x2="76.90" y2="116.49"/>
<line x1="76.20" y1="116.83" x2="76.20" y2="117.16"/>
<line x1="76.20" y1="116.83" x2="76.90" y2="116.83"/>
<line x1="76.20" y1="117.16" x2="76.90" y2="117.16"/>
<line x1="75.78" y1="116.99" x2="75.78" y2="117.50"/>
<line x1="75.78" y1="116.99" x2="76.20" y2="116.99"/>
<line x1="75.78" y1="117.50" x2="76.90" y2="117.50"/>
<line x1="74.72" y1="116.00" x2="74.72" y2="117.25"/>
<line x1="74.72" y1="116.00" x2="75.07" y2="116.00"/>
<line x1="74.72" y1="117.25" x2="75.78" y2="117.25"/>
<line x1="75.63" y1="117.84" x2="75.63" y2="118.18"/>
<line x1="75.63" y1="117.84" x2="76.90" y2="117.84"/>
<line x1="75.63" y1="118.18" x2="76.90" y2="118.18"/>
<line x1="75.93" y1="118.52" x2="75.93" y2="118.86"/>
<line x1="75.93" y1="118.52" x2="76.90" y2="118.52"/>
<line x1="75.93" y1="118.86" x2="76.90" y2="118.86"/>
<line x1="76.01" y1="119.20" x2="76.01" y2="119.54"/>
<line x1="76.01" y1="119.20" x2="76.90" y2="119.20"/>
<line x1="76.01" y1="119.54" x2="76.90" y2="119.54"/>
<line x1="75.25" y1="118.69" x2="75.25" y2="119.37"/>
<line x1="75.25" y1="118.69" x2="75.93" y2="118.69"/>
<line x1="75.25" y1="119.37" x2="76.01" y2="119.37"/>
<line x1="74.90" y1="118.01" x2="74.90" y2="119.03"/>
<line x1="74.90" y1="118.01" x2="75.63" y2="118.01"/>
<line x1="74.90" y1="119.03" x2="75.25" y2="119.03"/>
<line x1="70.60" y1="116.62" x2="70.60" y2="118.52"/>
<line x1="70.60" y1="116.62" x2="74.72" y2="116.62"/>
<line x1="70.60" y1="118.52" x2="74.90" y2="118.52"/>
<line x1="76.25" y1="120.21" x2="76.25" y2="120.55"/>
<line x1="76.25" y1="120.21" x2="76.90" y2="120.21"/>
<line x1="76.25" y1="120.55" x2="76.90" y2="120.55"/>
<line x1="76.25" y1="120.89" x2="76.25" y2="121.23"/>
<line x1="76.25" y1="120.89" x2="76.90" y2="120.89"/>
<line x1="76.25" y1="121.23" x2="76.90" y2="121.23"/>
<line x1="75.90" y1="120.38" x2="75.90" y2="121.06"/>
<line x1="75.90" y1="120.38" x2="76.25" y2="120.38"/>
<line x1="75.90" y1="121.06" x2="76.25" y2="121.06"/>
<line x1="75.55" y1="119.88" x2="75.55" y2="120.72"/>
<line x1="75.55" y1="119.88" x2="76.90" y2="119.88"/>
<line x1="75.55" y1="120.72" x2="75.90" y2="120.72"/>
<line x1="68.92" y1="117.57" x2="68.92" y2="120.30"/>
<line x1="68.92" y1="117.57" x2="70.60" y2="117.57"/>
<line x1="68.92" y1="120.30" x2="75.55" y2="120.30"/>
<line x1="76.22" y1="122.25" x2="76.22" y2="122.59"/>
<line x1="76.22" y1="122.25" x2="76.90" y2="122.25"/>
<line x1="76.22" y1="122.59" x2="76.90" y2="122.59"/>
<line x1="75.54" y1="121.91" x2="75.54" y2="122.42"/>
<line x1="75.54" y1="121.91" x2="76.90" y2="121.91"/>
<line x1="75.54" y1="122.42" x2="76.22" y2="122.42"/>
<line x1="74.62" y1="122.16" x2="74.62" y2="122.93"/>
<line x1="74.62" y1="122.16" x2="75.54" y2="122.16"/>
<line x1="74.62" y1="122.93" x2="76.90" y2="122.93"/>
<line x1="73.87" y1="121.57" x2="73.87" y2="122.54"/>
<line x1="73.87" y1="121.57" x2="76.90" y2="121.57"/>
<line x1="73.87" y1="122.54" x2="74.62" y2="122.54"/>
<line x1="68.05" y1="118.94" x2="68.05" y2="122.06"/>
<line x1="68.05" y1="118.94" x2="68.92" y2="118.94"/>
<line x1="68.05" y1="122.06" x2="73.87" y2="122.06"/>
<line x1="76.04" y1="123.60" x2="76.04" y2="123.94"/>
<line x1="76.04" y1="123.60" x2="76.90" y2="123.60"/>
<line x1="76.04" y1="123.94" x2="76.90" y2="123.94"/>
<line x1="75.46" y1="123.77" x2="75.46" y2="124.28"/>
<line x1="75.46" y1="123.77" x2="76.04" y2="123.77"/>
<line x1="75.46" y1="124.28" x2="76.90" y2="124.28"/>
<line x1="74.48" y1="123.26" x2="74.48" y2="124.03"/>
<line x1="74.48" y1="123.26" x2="76.90" y2="123.26"/>
<line x1="74.48" y1="124.03" x2="75.46" y2="124.03"/>
<line x1="67.70" y1="120.50" x2="67.70" y2="123.65"/>
<line x1="67.70" y1="120.50" x2="68.05" y2="120.50"/>
<line x1="67.70" y1="123.65" x2="74.48" y2="123.65"/>
<line x1="67.35" y1="102.65" x2="67.35" y2="122.07"/>
<line x1="67.35" y1="102.65" x2="67.70" y2="102.65"/>
<line x1="67.35" y1="122.07" x2="67.70" y2="122.07"/>
<line x1="76.15" y1="124.96" x2="76.15" y2="125.30"/>
<line x1="76.15" y1="124.96" x2="76.90" y2="124.96"/>
<line x1="76.15" y1="125.30" x2="76.90" y2="125.30"/>
<line x1="75.36" y1="124.62" x2="75.36" y2="125.13"/>
<line x1="75.36" y1="124.62" x2="76.90" y2="124.62"/>
<line x1="75.36" y1="125.13" x2="76.15" y2="125.13"/>
<line x1="76.04" y1="125.97" x2="76.04" y2="126.31"/>
<line x1="76.04" y1="125.97" x2="76.90" y2="125.97"/>
<line x1="76.04" y1="126.31" x2="76.90" y2="126.31"/>
<line x1="76.22" y1="126.99" x2="76.22" y2="127.33"/>
<line x1="76.22" y1="126.99" x2="76.90" y2="126.99"/>
<line x1="76.22" y1="127.33" x2="76.90" y2="127.33"/>
<line x1="75.87" y1="126.65" x2="75.87" y2="127.16"/>
<line x1="75.87" y1="126.65" x2="76.90" y2="126.65"/>
<line x1="75.87" y1="127.16" x2="76.22" y2="127.16"/>
<line x1="75.07" y1="126.14" x2="75.07" y2="126.91"/>
<line x1="75.07" y1="126.14" x2="76.04" y2="126.14"/>
<line x1="75.07" y1="126.91" x2="75.87" y2="126.91"/>
<line x1="74.72" y1="125.64" x2="74.72" y2="126.53"/>
<line x1="74.72" y1="125.64" x2="76.90" y2="125.64"/>
<line x1="74.72" y1="126.53" x2="75.07" y2="126.53"/>
<line x1="74.37" y1="124.87" x2="74.37" y2="126.08"/>
<line x1="74.37" y1="124.87" x2="75.36" y2="124.87"/>
<line x1="74.37" y1="126.08" x2="74.72" y2="126.08"/>
<line x1="67.00" y1="112.36" x2="67.00" y2="125.48"/>
<line x1="67.00" y1="112.36" x2="67.35" y2="112.36"/>
<line x1="67.00" y1="125.48" x2="74.37" y2="125.48"/>
<line x1="61.60" y1="89.80" x2="61.60" y2="117.20"/>
<line x1="61.60" y1="89.80" x2="64.50" y2="89.80"/>
<line x1="61.60" y1="117.20" x2="67.00" y2="117.20"/>
<line x1="76.18" y1="127.67" x2="76.18" y2="128.01"/>
<line x1="76.18" y1="127.67" x2="76.90" y2="127.67"/>
<line x1="76.18" y1="128.01" x2="76.90" y2="128.01"/>
<line x1="75.83" y1="127.84" x2="75.83" y2="128.34"/>
<line x1="75.83" y1="127.84" x2="76.18" y2="127.84"/>
<line x1="75.83" y1="128.34" x2="76.90" y2="128.34"/>
<line x1="76.52" y1="129.02" x2="76.52" y2="129.36"/>
<line x1="76.52" y1="129.02" x2="76.90" y2="129.02"/>
<line x1="76.52" y1="129.36" x2="76.90" y2="129.36"/>
<line x1="76.17" y1="129.19" x2="76.17" y2="129.70"/>
<line x1="76.17" y1="129.19" x2="76.52" y2="129.19"/>
<line x1="76.17" y1="129.70" x2="76.90" y2="129.70"/>
<line x1="75.82" y1="128.68" x2="75.82" y2="129.44"/>
<line x1="75.82" y1="128.68" x2="76.90" y2="128.68"/>
<line x1="75.82" y1="129.44" x2="76.17" y2="129.44"/>
<line x1="75.47" y1="129.06" x2="75.47" y2="130.03"/>
<line x1="75.47" y1="129.06" x2="75.82" y2="129.06"/>
<line x1="75.47" y1="130.03" x2="76.90" y2="130.03"/>
<line x1="75.86" y1="130.37" x2="75.86" y2="130.71"/>
<line x1="75.86" y1="130.37" x2="76.90" y2="130.37"/>
<line x1="75.86" y1="130.71" x2="76.90" y2="130.71"/>
<line x1="75.12" y1="129.55" x2="75.12" y2="130.54"/>
<line x1="75.12" y1="129.55" x2="75.47" y2="129.55"/>
<line x1="75.12" y1="130.54" x2="75.86" y2="130.54"/>
<line x1="74.15" y1="128.09" x2="74.15" y2="130.04"/>
<line x1="74.15" y1="128.09" x2="75.83" y2="128.09"/>
<line x1="74.15" y1="130.04" x2="75.12" y2="130.04"/>
<line x1="73.80" y1="129.07" x2="73.80" y2="131.05"/>
<line x1="73.80" y1="129.07" x2="74.15" y2="129.07"/>
<line x1="73.80" y1="131.05" x2="76.90" y2="131.05"/>
<line x1="75.71" y1="131.39" x2="75.71" y2="131.72"/>
<line x1="75.71" y1="131.39" x2="76.90" y2="131.39"/>
<line x1="75.71" y1="131.72" x2="76.90" y2="131.72"/>
<line x1="73.45" y1="130.06" x2="73.45" y2="131.55"/>
<line x1="73.45" y1="130.06" x2="73.80" y2="130.06"/>
<line x1="73.45" y1="131.55" x2="75.71" y2="131.55"/>
<line x1="76.10" y1="132.06" x2="76.10" y2="132.40"/>
<line x1="76.10" y1="132.06" x2="76.90" y2="132.06"/>
<line x1="76.10" y1="132.40" x2="76.90" y2="132.40"/>
<line x1="75.84" y1="132.74" x2="75.84" y2="133.07"/>
<line x1="75.84" y1="132.74" x2="76.90" y2="132.74"/>
<line x1="75.84" y1="133.07" x2="76.90" y2="133.07"/>
<line x1="75.04" y1="132.23" x2="75.04" y2="132.91"/>
<line x1="75.04" y1="132.23" x2="76.10" y2="132.23"/>
<line x1="75.04" y1="132.91" x2="75.84" y2="132.91"/>
<line x1="76.14" y1="133.41" x2="76.14" y2="133.75"/>
<line x1="76.14" y1="133.41" x2="76.90" y2="133.41"/>
<line x1="76.14" y1="133.75" x2="76.90" y2="133.75"/>
<line x1="74.89" y1="133.58" x2="74.89" y2="134.09"/>
<line x1="74.89" y1="133.58" x2="76.14" y2="133.58"/>
<line x1="74.89" y1="134.09" x2="76.90" y2="134.09"/>
<line x1="76.14" y1="134.43" x2="76.14" y2="134.76"/>
<line x1="76.14" y1="134.43" x2="76.90" y2="134.43"/>
<line x1="76.14" y1="134.76" x2="76.90" y2="134.76"/>
<line x1="75.79" y1="134.59" x2="75.79" y2="135.10"/>
<line x1="75.79" y1="134.59" x2="76.14" y2="134.59"/>
<line x1="75.79" y1="135.10" x2="76.90" y2="135.10"/>
<line x1="76.17" y1="135.44" x2="76.17" y2="135.78"/>
<line x1="76.17" y1="135.44" x2="76.90" y2="135.44"/>
<line x1="76.17" y1="135.78" x2="76.90" y2="135.78"/>
<line x1="73.97" y1="134.85" x2="73.97" y2="135.61"/>
<line x1="73.97" y1="134.85" x2="75.79" y2="134.85"/>
<line x1="73.97" y1="135.61" x2="76.17" y2="135.61"/>
<line x1="73.31" y1="133.83" x2="73.31" y2="135.23"/>
<line x1="73.31" y1="133.83" x2="74.89" y2="133.83"/>
<line x1="73.31" y1="135.23" x2="73.97" y2="135.23"/>
<line x1="75.81" y1="136.11" x2="75.81" y2="136.45"/>
<line x1="75.81" y1="136.11" x2="76.90" y2="136.11"/>
<line x1="75.81" y1="136.45" x2="76.90" y2="136.45"/>
<line x1="76.33" y1="137.13" x2="76.33" y2="137.47"/>
<line x1="76.33" y1="137.13" x2="76.90" y2="137.13"/>
<line x1="76.33" y1="137.47" x2="76.90" y2="137.47"/>
<line x1="75.98" y1="136.79" x2="75.98" y2="137.30"/>
<line x1="75.98" y1="136.79" x2="76.90" y2="136.79"/>
<line x1="75.98" y1="137.30" x2="76.33" y2="137.30"/>
<line x1="74.08" y1="136.28" x2="74.08" y2="137.04"/>
<line x1="74.08" y1="136.28" x2="75.81" y2="136.28"/>
<line x1="74.08" y1="137.04" x2="75.98" y2="137.04"/>
<line x1="76.36" y1="138.14" x2="76.36" y2="138.48"/>
<line x1="76.36" y1="138.14" x2="76.90" y2="138.14"/>
<line x1="76.36" y1="138.48" x2="76.90" y2="138.48"/>
<line x1="76.01" y1="137.80" x2="76.01" y2="138.31"/>
<line x1="76.01" y1="137.80" x2="76.90" y2="137.80"/>
<line x1="76.01" y1="138.31" x2="76.36" y2="138.31"/>
<line x1="75.82" y1="138.82" x2="75.82" y2="139.16"/>
<line x1="75.82" y1="138.82" x2="76.90" y2="138.82"/>
<line x1="75.82" y1="139.16" x2="76.90" y2="139.16"/>
<line x1="75.47" y1="138.06" x2="75.47" y2="138.99"/>
<line x1="75.47" y1="138.06" x2="76.01" y2="138.06"/>
<line x1="75.47" y1="138.99" x2="75.82" y2="138.99"/>
<line x1="76.11" y1="139.49" x2="76.11" y2="139.83"/>
<line x1="76.11" y1="139.49" x2="76.90" y2="139.49"/>
<line x1="76.11" y1="139.83" x2="76.90" y2="139.83"/>
<line x1="73.36" y1="138.52" x2="73.36" y2="139.66"/>
<line x1="73.36" y1="138.52" x2="75.47" y2="138.52"/>
<line x1="73.36" y1="139.66" x2="76.11" y2="139.66"/>
<line x1="72.07" y1="136.66" x2="72.07" y2="139.09"/>
<line x1="72.07" y1="136.66" x2="74.08" y2="136.66"/>
<line x1="72.07" y1="139.09" x2="73.36" y2="139.09"/>
<line x1="71.46" y1="134.53" x2="71.46" y2="137.88"/>
<line x1="71.46" y1="134.53" x2="73.31" y2="134.53"/>
<line x1="71.46" y1="137.88" x2="72.07" y2="137.88"/>
<line x1="69.29" y1="132.57" x2="69.29" y2="136.20"/>
<line x1="69.29" y1="132.57" x2="75.04" y2="132.57"/>
<line x1="69.29" y1="136.20" x2="71.46" y2="136.20"/>
<line x1="67.80" y1="130.81" x2="67.80" y2="137.10"/>
<line x1="67.80" y1="130.81" x2="73.45" y2="130.81"/>
<line x1="67.80" y1="134.39" x2="69.29" y2="134.39"/>
<line x1="58.50" y1="103.30" x2="58.50" y2="137.10"/>
<line x1="58.50" y1="103.30" x2="61.60" y2="103.30"/>
<line x1="58.50" y1="137.10" x2="67.80" y2="137.10"/>
<line x1="45.90" y1="81.70" x2="45.90" y2="121.00"/>
<line x1="45.90" y1="81.70" x2="62.00" y2="81.70"/>
<line x1="45.90" y1="121.00" x2="58.50" y2="121.00"/>
<line x1="75.74" y1="140.17" x2="75.74" y2="140.51"/>
<line x1="75.74" y1="140.17" x2="76.90" y2="140.17"/>
<line x1="75.74" y1="140.51" x2="76.90" y2="140.51"/>
<line x1="75.73" y1="140.85" x2="75.73" y2="141.19"/>
<line x1="75.73" y1="140.85" x2="76.90" y2="140.85"/>
<line x1="75.73" y1="141.19" x2="76.90" y2="141.19"/>
<line x1="75.38" y1="141.53" x2="75.38" y2="141.86"/>
<line x1="75.38" y1="141.53" x2="76.90" y2="141.53"/>
<line x1="75.38" y1="141.86" x2="76.90" y2="141.86"/>
<line x1="75.03" y1="141.02" x2="75.03" y2="141.69"/>
<line x1="75.03" y1="141.02" x2="75.73" y2="141.02"/>
<line x1="75.03" y1="141.69" x2="75.38" y2="141.69"/>
<line x1="73.78" y1="140.34" x2="73.78" y2="141.36"/>
<line x1="73.78" y1="140.34" x2="75.74" y2="140.34"/>
<line x1="73.78" y1="141.36" x2="75.03" y2="141.36"/>
<line x1="75.94" y1="142.54" x2="75.94" y2="142.88"/>
<line x1="75.94" y1="142.54" x2="76.90" y2="142.54"/>
<line x1="75.94" y1="142.88" x2="76.90" y2="142.88"/>
<line x1="75.16" y1="142.20" x2="75.16" y2="142.71"/>
<line x1="75.16" y1="142.20" x2="76.90" y2="142.20"/>
<line x1="75.16" y1="142.71" x2="75.94" y2="142.71"/>
<line x1="74.79" y1="142.46" x2="74.79" y2="143.22"/>
<line x1="74.79" y1="142.46" x2="75.16" y2="142.46"/>
<line x1="74.79" y1="143.22" x2="76.90" y2="143.22"/>
<line x1="73.70" y1="142.84" x2="73.70" y2="143.56"/>
<line x1="73.70" y1="142.84" x2="74.79" y2="142.84"/>
<line x1="73.70" y1="143.56" x2="76.90" y2="143.56"/>
<line x1="75.55" y1="144.58" x2="75.55" y2="144.92"/>
<line x1="75.55" y1="144.58" x2="76.90" y2="144.58"/>
<line x1="75.55" y1="144.92" x2="76.90" y2="144.92"/>
<line x1="75.11" y1="144.75" x2="75.11" y2="145.25"/>
<line x1="75.11" y1="144.75" x2="75.55" y2="144.75"/>
<line x1="75.11" y1="145.25" x2="76.90" y2="145.25"/>
<line x1="74.76" y1="144.24" x2="74.76" y2="145.00"/>
<line x1="74.76" y1="144.24" x2="76.90" y2="144.24"/>
<line x1="74.76" y1="145.00" x2="75.11" y2="145.00"/>
<line x1="73.66" y1="143.90" x2="73.66" y2="144.62"/>
<line x1="73.66" y1="143.90" x2="76.90" y2="143.90"/>
<line x1="73.66" y1="144.62" x2="74.76" y2="144.62"/>
<line x1="75.43" y1="145.59" x2="75.43" y2="145.93"/>
<line x1="75.43" y1="145.59" x2="76.90" y2="145.59"/>
<line x1="75.43" y1="145.93" x2="76.90" y2="145.93"/>
<line x1="73.31" y1="144.26" x2="73.31" y2="145.76"/>
<line x1="73.31" y1="144.26" x2="73.66" y2="144.26"/>
<line x1="73.31" y1="145.76" x2="75.43" y2="145.76"/>
<line x1="75.76" y1="146.27" x2="75.76" y2="146.61"/>
<line x1="75.76" y1="146.27" x2="76.90" y2="146.27"/>
<line x1="75.76" y1="146.61" x2="76.90" y2="146.61"/>
<line x1="75.41" y1="146.44" x2="75.41" y2="146.95"/>
<line x1="75.41" y1="146.44" x2="75.76" y2="146.44"/>
<line x1="75.41" y1="146.95" x2="76.90" y2="146.95"/>
<line x1="72.41" y1="145.01" x2="72.41" y2="146.69"/>
<line x1="72.41" y1="145.01" x2="73.31" y2="145.01"/>
<line x1="72.41" y1="146.69" x2="75.41" y2="146.69"/>
<line x1="75.57" y1="147.63" x2="75.57" y2="147.97"/>
<line x1="75.57" y1="147.63" x2="76.90" y2="147.63"/>
<line x1="75.57" y1="147.97" x2="76.90" y2="147.97"/>
<line x1="75.22" y1="147.29" x2="75.22" y2="147.80"/>
<line x1="75.22" y1="147.29" x2="76.90" y2="147.29"/>
<line x1="75.22" y1="147.80" x2="75.57" y2="147.80"/>
<line x1="74.29" y1="147.54" x2="74.29" y2="148.31"/>
<line x1="74.29" y1="147.54" x2="75.22" y2="147.54"/>
<line x1="74.29" y1="148.31" x2="76.90" y2="148.31"/>
<line x1="71.95" y1="145.85" x2="71.95" y2="147.92"/>
<line x1="71.95" y1="145.85" x2="72.41" y2="145.85"/>
<line x1="71.95" y1="147.92" x2="74.29" y2="147.92"/>
<line x1="68.50" y1="143.20" x2="68.50" y2="146.89"/>
<line x1="68.50" y1="143.20" x2="73.70" y2="143.20"/>
<line x1="68.50" y1="146.89" x2="71.95" y2="146.89"/>
<line x1="61.43" y1="140.85" x2="61.43" y2="145.04"/>
<line x1="61.43" y1="140.85" x2="73.78" y2="140.85"/>
<line x1="61.43" y1="145.04" x2="68.50" y2="145.04"/>
<line x1="75.32" y1="148.98" x2="75.32" y2="149.32"/>
<line x1="75.32" y1="148.98" x2="76.90" y2="148.98"/>
<line x1="75.32" y1="149.32" x2="76.90" y2="149.32"/>
<line x1="74.95" y1="148.64" x2="74.95" y2="149.15"/>
<line x1="74.95" y1="148.64" x2="76.90" y2="148.64"/>
<line x1="74.95" y1="149.15" x2="75.32" y2="149.15"/>
<line x1="74.89" y1="150.00" x2="74.89" y2="150.34"/>
<line x1="74.89" y1="150.00" x2="76.90" y2="150.00"/>
<line x1="74.89" y1="150.34" x2="76.90" y2="150.34"/>
<line x1="75.89" y1="151.02" x2="75.89" y2="151.36"/>
<line x1="75.89" y1="151.02" x2="76.90" y2="151.02"/>
<line x1="75.89" y1="151.36" x2="76.90" y2="151.36"/>
<line x1="75.29" y1="150.68" x2="75.29" y2="151.19"/>
<line x1="75.29" y1="150.68" x2="76.90" y2="150.68"/>
<line x1="75.29" y1="151.19" x2="75.89" y2="151.19"/>
<line x1="73.63" y1="150.17" x2="73.63" y2="150.93"/>
<line x1="73.63" y1="150.17" x2="74.89" y2="150.17"/>
<line x1="73.63" y1="150.93" x2="75.29" y2="150.93"/>
<line x1="73.28" y1="149.66" x2="73.28" y2="150.55"/>
<line x1="73.28" y1="149.66" x2="76.90" y2="149.66"/>
<line x1="73.28" y1="150.55" x2="73.63" y2="150.55"/>
<line x1="75.80" y1="151.69" x2="75.80" y2="152.03"/>
<line x1="75.80" y1="151.69" x2="76.90" y2="151.69"/>
<line x1="75.80" y1="152.03" x2="76.90" y2="152.03"/>
<line x1="72.93" y1="150.11" x2="72.93" y2="151.86"/>
<line x1="72.93" y1="150.11" x2="73.28" y2="150.11"/>
<line x1="72.93" y1="151.86" x2="75.80" y2="151.86"/>
<line x1="72.58" y1="148.90" x2="72.58" y2="150.99"/>
<line x1="72.58" y1="148.90" x2="74.95" y2="148.90"/>
<line x1="72.58" y1="150.99" x2="72.93" y2="150.99"/>
<line x1="75.10" y1="152.71" x2="75.10" y2="153.05"/>
<line x1="75.10" y1="152.71" x2="76.90" y2="152.71"/>
<line x1="75.10" y1="153.05" x2="76.90" y2="153.05"/>
<line x1="74.75" y1="152.37" x2="74.75" y2="152.88"/>
<line x1="74.75" y1="152.37" x2="76.90" y2="152.37"/>
<line x1="74.75" y1="152.88" x2="75.10" y2="152.88"/>
<line x1="75.91" y1="154.07" x2="75.91" y2="154.41"/>
<line x1="75.91" y1="154.07" x2="76.90" y2="154.07"/>
<line x1="75.91" y1="154.41" x2="76.90" y2="154.41"/>
<line x1="75.47" y1="153.73" x2="75.47" y2="154.24"/>
<line x1="75.47" y1="153.73" x2="76.90" y2="153.73"/>
<line x1="75.47" y1="154.24" x2="75.91" y2="154.24"/>
<line x1="74.92" y1="153.39" x2="74.92" y2="153.98"/>
<line x1="74.92" y1="153.39" x2="76.90" y2="153.39"/>
<line x1="74.92" y1="153.98" x2="75.47" y2="153.98"/>
<line x1="75.70" y1="154.75" x2="75.70" y2="155.08"/>
<line x1="75.70" y1="154.75" x2="76.90" y2="154.75"/>
<line x1="75.70" y1="155.08" x2="76.90" y2="155.08"/>
<line x1="74.27" y1="153.69" x2="74.27" y2="154.92"/>
<line x1="74.27" y1="153.69" x2="74.92" y2="153.69"/>
<line x1="74.27" y1="154.92" x2="75.70" y2="154.92"/>
<line x1="71.68" y1="152.63" x2="71.68" y2="154.30"/>
<line x1="71.68" y1="152.63" x2="74.75" y2="152.63"/>
<line x1="71.68" y1="154.30" x2="74.27" y2="154.30"/>
<line x1="75.74" y1="155.42" x2="75.74" y2="155.76"/>
<line x1="75.74" y1="155.42" x2="76.90" y2="155.42"/>
<line x1="75.74" y1="155.76" x2="76.90" y2="155.76"/>
<line x1="74.72" y1="156.10" x2="74.72" y2="156.44"/>
<line x1="74.72" y1="156.10" x2="76.90" y2="156.10"/>
<line x1="74.72" y1="156.44" x2="76.90" y2="156.44"/>
<line x1="74.17" y1="156.27" x2="74.17" y2="156.78"/>
<line x1="74.17" y1="156.27" x2="74.72" y2="156.27"/>
<line x1="74.17" y1="156.78" x2="76.90" y2="156.78"/>
<line x1="73.71" y1="155.59" x2="73.71" y2="156.53"/>
<line x1="73.71" y1="155.59" x2="75.74" y2="155.59"/>
<line x1="73.71" y1="156.53" x2="74.17" y2="156.53"/>
<line x1="75.61" y1="157.12" x2="75.61" y2="157.46"/>
<line x1="75.61" y1="157.12" x2="76.90" y2="157.12"/>
<line x1="75.61" y1="157.46" x2="76.90" y2="157.46"/>
<line x1="75.12" y1="157.29" x2="75.12" y2="157.80"/>
<line x1="75.12" y1="157.29" x2="75.61" y2="157.29"/>
<line x1="75.12" y1="157.80" x2="76.90" y2="157.80"/>
<line x1="73.36" y1="156.06" x2="73.36" y2="157.54"/>
<line x1="73.36" y1="156.06" x2="73.71" y2="156.06"/>
<line x1="73.36" y1="157.54" x2="75.12" y2="157.54"/>
<line x1="75.47" y1="158.14" x2="75.47" y2="158.47"/>
<line x1="75.47" y1="158.14" x2="76.90" y2="158.14"/>
<line x1="75.47" y1="158.47" x2="76.90" y2="158.47"/>
<line x1="75.12" y1="158.31" x2="75.12" y2="158.81"/>
<line x1="75.12" y1="158.31" x2="75.47" y2="158.31"/>
<line x1="75.12" y1="158.81" x2="76.90" y2="158.81"/>
<line x1="74.22" y1="158.56" x2="74.22" y2="159.15"/>
<line x1="74.22" y1="158.56" x2="75.12" y2="158.56"/>
<line x1="74.22" y1="159.15" x2="76.90" y2="159.15"/>
<line x1="68.58" y1="156.80" x2="68.58" y2="158.86"/>
<line x1="68.58" y1="156.80" x2="73.36" y2="156.80"/>
<line x1="68.58" y1="158.86" x2="74.22" y2="158.86"/>
<line x1="75.16" y1="159.49" x2="75.16" y2="159.83"/>
<line x1="75.16" y1="159.49" x2="76.90" y2="159.49"/>
<line x1="75.16" y1="159.83" x2="76.90" y2="159.83"/>
<line x1="67.90" y1="157.83" x2="67.90" y2="159.66"/>
<line x1="67.90" y1="157.83" x2="68.58" y2="157.83"/>
<line x1="67.90" y1="159.66" x2="75.16" y2="159.66"/>
<line x1="63.72" y1="153.46" x2="63.72" y2="158.74"/>
<line x1="63.72" y1="153.46" x2="71.68" y2="153.46"/>
<line x1="63.72" y1="158.74" x2="67.90" y2="158.74"/>
<line x1="57.35" y1="149.94" x2="57.35" y2="156.10"/>
<line x1="57.35" y1="149.94" x2="72.58" y2="149.94"/>
<line x1="57.35" y1="156.10" x2="63.72" y2="156.10"/>
<line x1="57.00" y1="142.95" x2="57.00" y2="156.40"/>
<line x1="57.00" y1="142.95" x2="61.43" y2="142.95"/>
<line x1="57.00" y1="153.02" x2="57.35" y2="153.02"/>
<line x1="76.36" y1="160.50" x2="76.36" y2="160.83"/>
<line x1="76.36" y1="160.50" x2="76.90" y2="160.50"/>
<line x1="76.36" y1="160.83" x2="76.90" y2="160.83"/>
<line x1="76.01" y1="160.17" x2="76.01" y2="160.67"/>
<line x1="76.01" y1="160.17" x2="76.90" y2="160.17"/>
<line x1="76.01" y1="160.67" x2="76.36" y2="160.67"/>
<line x1="76.19" y1="161.50" x2="76.19" y2="161.83"/>
<line x1="76.19" y1="161.50" x2="76.90" y2="161.50"/>
<line x1="76.19" y1="161.83" x2="76.90" y2="161.83"/>
<line x1="75.84" y1="161.67" x2="75.84" y2="162.17"/>
<line x1="75.84" y1="161.67" x2="76.19" y2="161.67"/>
<line x1="75.84" y1="162.17" x2="76.90" y2="162.17"/>
<line x1="75.49" y1="161.17" x2="75.49" y2="161.92"/>
<line x1="75.49" y1="161.17" x2="76.90" y2="161.17"/>
<line x1="75.49" y1="161.92" x2="75.84" y2="161.92"/>
<line x1="76.11" y1="162.50" x2="76.11" y2="162.83"/>
<line x1="76.11" y1="162.50" x2="76.90" y2="162.50"/>
<line x1="76.11" y1="162.83" x2="76.90" y2="162.83"/>
<line x1="75.14" y1="161.54" x2="75.14" y2="162.67"/>
<line x1="75.14" y1="161.54" x2="75.49" y2="161.54"/>
<line x1="75.14" y1="162.67" x2="76.11" y2="162.67"/>
<line x1="75.72" y1="163.17" x2="75.72" y2="163.50"/>
<line x1="75.72" y1="163.17" x2="76.90" y2="163.17"/>
<line x1="75.72" y1="163.50" x2="76.90" y2="163.50"/>
<line x1="75.36" y1="163.33" x2="75.36" y2="163.83"/>
<line x1="75.36" y1="163.33" x2="75.72" y2="163.33"/>
<line x1="75.36" y1="163.83" x2="76.90" y2="163.83"/>
<line x1="74.26" y1="162.10" x2="74.26" y2="163.58"/>
<line x1="74.26" y1="162.10" x2="75.14" y2="162.10"/>
<line x1="74.26" y1="163.58" x2="75.36" y2="163.58"/>
<line x1="69.00" y1="160.42" x2="69.00" y2="162.84"/>
<line x1="69.00" y1="160.42" x2="76.01" y2="160.42"/>
<line x1="69.00" y1="162.84" x2="74.26" y2="162.84"/>
<line x1="76.04" y1="164.17" x2="76.04" y2="164.51"/>
<line x1="76.04" y1="164.17" x2="76.90" y2="164.17"/>
<line x1="76.04" y1="164.51" x2="76.90" y2="164.51"/>
<line x1="75.50" y1="164.85" x2="75.50" y2="165.19"/>
<line x1="75.50" y1="164.85" x2="76.90" y2="164.85"/>
<line x1="75.50" y1="165.19" x2="76.90" y2="165.19"/>
<line x1="75.87" y1="165.53" x2="75.87" y2="165.87"/>
<line x1="75.87" y1="165.53" x2="76.90" y2="165.53"/>
<line x1="75.87" y1="165.87" x2="76.90" y2="165.87"/>
<line x1="74.83" y1="165.02" x2="74.83" y2="165.70"/>
<line x1="74.83" y1="165.02" x2="75.50" y2="165.02"/>
<line x1="74.83" y1="165.70" x2="75.87" y2="165.70"/>
<line x1="74.48" y1="164.34" x2="74.48" y2="165.36"/>
<line x1="74.48" y1="164.34" x2="76.04" y2="164.34"/>
<line x1="74.48" y1="165.36" x2="74.83" y2="165.36"/>
<line x1="75.45" y1="166.21" x2="75.45" y2="166.54"/>
<line x1="75.45" y1="166.21" x2="76.90" y2="166.21"/>
<line x1="75.45" y1="166.54" x2="76.90" y2="166.54"/>
<line x1="74.13" y1="164.85" x2="74.13" y2="166.37"/>
<line x1="74.13" y1="164.85" x2="74.48" y2="164.85"/>
<line x1="74.13" y1="166.37" x2="75.45" y2="166.37"/>
<line x1="75.74" y1="166.88" x2="75.74" y2="167.22"/>
<line x1="75.74" y1="166.88" x2="76.90" y2="166.88"/>
<line x1="75.74" y1="167.22" x2="76.90" y2="167.22"/>
<line x1="73.78" y1="165.61" x2="73.78" y2="167.05"/>
<line x1="73.78" y1="165.61" x2="74.13" y2="165.61"/>
<line x1="73.78" y1="167.05" x2="75.74" y2="167.05"/>
<line x1="73.43" y1="166.33" x2="73.43" y2="167.56"/>
<line x1="73.43" y1="166.33" x2="73.78" y2="166.33"/>
<line x1="73.43" y1="167.56" x2="76.90" y2="167.56"/>
<line x1="75.73" y1="168.24" x2="75.73" y2="168.58"/>
<line x1="75.73" y1="168.24" x2="76.90" y2="168.24"/>
<line x1="75.73" y1="168.58" x2="76.90" y2="168.58"/>
<line x1="74.89" y1="168.41" x2="74.89" y2="168.92"/>
<line x1="74.89" y1="168.41" x2="75.73" y2="168.41"/>
<line x1="74.89" y1="168.92" x2="76.90" y2="168.92"/>
<line x1="74.37" y1="167.90" x2="74.37" y2="168.66"/>
<line x1="74.37" y1="167.90" x2="76.90" y2="167.90"/>
<line x1="74.37" y1="168.66" x2="74.89" y2="168.66"/>
<line x1="76.09" y1="169.26" x2="76.09" y2="169.60"/>
<line x1="76.09" y1="169.26" x2="76.90" y2="169.26"/>
<line x1="76.09" y1="169.60" x2="76.90" y2="169.60"/>
<line x1="73.63" y1="168.28" x2="73.63" y2="169.43"/>
<line x1="73.63" y1="168.28" x2="74.37" y2="168.28"/>
<line x1="73.63" y1="169.43" x2="76.09" y2="169.43"/>
<line x1="76.36" y1="170.62" x2="76.36" y2="170.95"/>
<line x1="76.36" y1="170.62" x2="76.90" y2="170.62"/>
<line x1="76.36" y1="170.95" x2="76.90" y2="170.95"/>
<line x1="76.01" y1="170.28" x2="76.01" y2="170.78"/>
<line x1="76.01" y1="170.28" x2="76.90" y2="170.28"/>
<line x1="76.01" y1="170.78" x2="76.36" y2="170.78"/>
<line x1="75.52" y1="169.94" x2="75.52" y2="170.53"/>
<line x1="75.52" y1="169.94" x2="76.90" y2="169.94"/>
<line x1="75.52" y1="170.53" x2="76.01" y2="170.53"/>
<line x1="75.46" y1="171.29" x2="75.46" y2="171.63"/>
<line x1="75.46" y1="171.29" x2="76.90" y2="171.29"/>
<line x1="75.46" y1="171.63" x2="76.90" y2="171.63"/>
<line x1="74.21" y1="170.23" x2="74.21" y2="171.46"/>
<line x1="74.21" y1="170.23" x2="75.52" y2="170.23"/>
<line x1="74.21" y1="171.46" x2="75.46" y2="171.46"/>
<line x1="76.12" y1="171.97" x2="76.12" y2="172.31"/>
<line x1="76.12" y1="171.97" x2="76.90" y2="171.97"/>
<line x1="76.12" y1="172.31" x2="76.90" y2="172.31"/>
<line x1="75.77" y1="172.14" x2="75.77" y2="172.65"/>
<line x1="75.77" y1="172.14" x2="76.12" y2="172.14"/>
<line x1="75.77" y1="172.65" x2="76.90" y2="172.65"/>
<line x1="75.82" y1="172.99" x2="75.82" y2="173.33"/>
<line x1="75.82" y1="172.99" x2="76.90" y2="172.99"/>
<line x1="75.82" y1="173.33" x2="76.90" y2="173.33"/>
<line x1="75.12" y1="173.16" x2="75.12" y2="173.67"/>
<line x1="75.12" y1="173.16" x2="75.82" y2="173.16"/>
<line x1="75.12" y1="173.67" x2="76.90" y2="173.67"/>
<line x1="73.48" y1="172.40" x2="73.48" y2="173.41"/>
<line x1="73.48" y1="172.40" x2="75.77" y2="172.40"/>
<line x1="73.48" y1="173.41" x2="75.12" y2="173.41"/>
<line x1="75.98" y1="174.01" x2="75.98" y2="174.35"/>
<line x1="75.98" y1="174.01" x2="76.90" y2="174.01"/>
<line x1="75.98" y1="174.35" x2="76.90" y2="174.35"/>
<line x1="75.44" y1="174.69" x2="75.44" y2="175.03"/>
<line x1="75.44" y1="174.69" x2="76.90" y2="174.69"/>
<line x1="75.44" y1="175.03" x2="76.90" y2="175.03"/>
<line x1="76.23" y1="176.04" x2="76.23" y2="176.38"/>
<line x1="76.23" y1="176.04" x2="76.90" y2="176.04"/>
<line x1="76.23" y1="176.38" x2="76.90" y2="176.38"/>
<line x1="75.88" y1="176.21" x2="75.88" y2="176.72"/>
<line x1="75.88" y1="176.21" x2="76.23" y2="176.21"/>
<line x1="75.88" y1="176.72" x2="76.90" y2="176.72"/>
<line x1="75.53" y1="175.70" x2="75.53" y2="176.47"/>
<line x1="75.53" y1="175.70" x2="76.90" y2="175.70"/>
<line x1="75.53" y1="176.47" x2="75.88" y2="176.47"/>
<line x1="74.96" y1="175.36" x2="74.96" y2="176.09"/>
<line x1="74.96" y1="175.36" x2="76.90" y2="175.36"/>
<line x1="74.96" y1="176.09" x2="75.53" y2="176.09"/>
<line x1="74.58" y1="174.86" x2="74.58" y2="175.73"/>
<line x1="74.58" y1="174.86" x2="75.44" y2="174.86"/>
<line x1="74.58" y1="175.73" x2="74.96" y2="175.73"/>
<line x1="74.23" y1="174.18" x2="74.23" y2="175.29"/>
<line x1="74.23" y1="174.18" x2="75.98" y2="174.18"/>
<line x1="74.23" y1="175.29" x2="74.58" y2="175.29"/>
<line x1="72.35" y1="172.91" x2="72.35" y2="174.73"/>
<line x1="72.35" y1="172.91" x2="73.48" y2="172.91"/>
<line x1="72.35" y1="174.73" x2="74.23" y2="174.73"/>
<line x1="76.01" y1="177.40" x2="76.01" y2="177.74"/>
<line x1="76.01" y1="177.40" x2="76.90" y2="177.40"/>
<line x1="76.01" y1="177.74" x2="76.90" y2="177.74"/>
<line x1="75.66" y1="177.06" x2="75.66" y2="177.57"/>
<line x1="75.66" y1="177.06" x2="76.90" y2="177.06"/>
<line x1="75.66" y1="177.57" x2="76.01" y2="177.57"/>
<line x1="75.18" y1="177.32" x2="75.18" y2="178.08"/>
<line x1="75.18" y1="177.32" x2="75.66" y2="177.32"/>
<line x1="75.18" y1="178.08" x2="76.90" y2="178.08"/>
<line x1="72.00" y1="173.82" x2="72.00" y2="177.70"/>
<line x1="72.00" y1="173.82" x2="72.35" y2="173.82"/>
<line x1="72.00" y1="177.70" x2="75.18" y2="177.70"/>
<line x1="71.65" y1="170.85" x2="71.65" y2="175.76"/>
<line x1="71.65" y1="170.85" x2="74.21" y2="170.85"/>
<line x1="71.65" y1="175.76" x2="72.00" y2="175.76"/>
<line x1="75.76" y1="178.76" x2="75.76" y2="179.10"/>
<line x1="75.76" y1="178.76" x2="76.90" y2="178.76"/>
<line x1="75.76" y1="179.10" x2="76.90" y2="179.10"/>
<line x1="75.41" y1="178.93" x2="75.41" y2="179.44"/>
<line x1="75.41" y1="178.93" x2="75.76" y2="178.93"/>
<line x1="75.41" y1="179.44" x2="76.90" y2="179.44"/>
<line x1="75.06" y1="179.18" x2="75.06" y2="179.77"/>
<line x1="75.06" y1="179.18" x2="75.41" y2="179.18"/>
<line x1="75.06" y1="179.77" x2="76.90" y2="179.77"/>
<line x1="76.24" y1="180.79" x2="76.24" y2="181.13"/>
<line x1="76.24" y1="180.79" x2="76.90" y2="180.79"/>
<line x1="76.24" y1="181.13" x2="76.90" y2="181.13"/>
<line x1="75.89" y1="180.45" x2="75.89" y2="180.96"/>
<line x1="75.89" y1="180.45" x2="76.90" y2="180.45"/>
<line x1="75.89" y1="180.96" x2="76.24" y2="180.96"/>
<line x1="75.54" y1="180.11" x2="75.54" y2="180.71"/>
<line x1="75.54" y1="180.11" x2="76.90" y2="180.11"/>
<line x1="75.54" y1="180.71" x2="75.89" y2="180.71"/>
<line x1="73.81" y1="179.48" x2="73.81" y2="180.41"/>
<line x1="73.81" y1="179.48" x2="75.06" y2="179.48"/>
<line x1="73.81" y1="180.41" x2="75.54" y2="180.41"/>
<line x1="73.46" y1="178.42" x2="73.46" y2="179.94"/>
<line x1="73.46" y1="178.42" x2="76.90" y2="178.42"/>
<line x1="73.46" y1="179.94" x2="73.81" y2="179.94"/>
<line x1="75.65" y1="181.47" x2="75.65" y2="181.81"/>
<line x1="75.65" y1="181.47" x2="76.90" y2="181.47"/>
<line x1="75.65" y1="181.81" x2="76.90" y2="181.81"/>
<line x1="76.03" y1="182.83" x2="76.03" y2="183.17"/>
<line x1="76.03" y1="182.83" x2="76.90" y2="182.83"/>
<line x1="76.03" y1="183.17" x2="76.90" y2="183.17"/>
<line x1="75.68" y1="182.49" x2="75.68" y2="183.00"/>
<line x1="75.68" y1="182.49" x2="76.90" y2="182.49"/>
<line x1="75.68" y1="183.00" x2="76.03" y2="183.00"/>
<line x1="75.33" y1="182.15" x2="75.33" y2="182.74"/>
<line x1="75.33" y1="182.15" x2="76.90" y2="182.15"/>
<line x1="75.33" y1="182.74" x2="75.68" y2="182.74"/>
<line x1="74.98" y1="182.45" x2="74.98" y2="183.51"/>
<line x1="74.98" y1="182.45" x2="75.33" y2="182.45"/>
<line x1="74.98" y1="183.51" x2="76.90" y2="183.51"/>
<line x1="74.63" y1="181.64" x2="74.63" y2="182.98"/>
<line x1="74.63" y1="181.64" x2="75.65" y2="181.64"/>
<line x1="74.63" y1="182.98" x2="74.98" y2="182.98"/>
<line x1="71.65" y1="179.18" x2="71.65" y2="182.31"/>
<line x1="71.65" y1="179.18" x2="73.46" y2="179.18"/>
<line x1="71.65" y1="182.31" x2="74.63" y2="182.31"/>
<line x1="76.19" y1="184.18" x2="76.19" y2="184.52"/>
<line x1="76.19" y1="184.18" x2="76.90" y2="184.18"/>
<line x1="76.19" y1="184.52" x2="76.90" y2="184.52"/>
<line x1="75.84" y1="184.35" x2="75.84" y2="184.86"/>
<line x1="75.84" y1="184.35" x2="76.19" y2="184.35"/>
<line x1="75.84" y1="184.86" x2="76.90" y2="184.86"/>
<line x1="75.49" y1="183.85" x2="75.49" y2="184.61"/>
<line x1="75.49" y1="183.85" x2="76.90" y2="183.85"/>
<line x1="75.49" y1="184.61" x2="75.84" y2="184.61"/>
<line x1="71.30" y1="180.74" x2="71.30" y2="184.23"/>
<line x1="71.30" y1="180.74" x2="71.65" y2="180.74"/>
<line x1="71.30" y1="184.23" x2="75.49" y2="184.23"/>
<line x1="70.95" y1="173.30" x2="70.95" y2="182.49"/>
<line x1="70.95" y1="173.30" x2="71.65" y2="173.30"/>
<line x1="70.95" y1="182.49" x2="71.30" y2="182.49"/>
<line x1="75.43" y1="185.20" x2="75.43" y2="185.54"/>
<line x1="75.43" y1="185.20" x2="76.90" y2="185.20"/>
<line x1="75.43" y1="185.54" x2="76.90" y2="185.54"/>
<line x1="76.22" y1="186.22" x2="76.22" y2="186.56"/>
<line x1="76.22" y1="186.22" x2="76.90" y2="186.22"/>
<line x1="76.22" y1="186.56" x2="76.90" y2="186.56"/>
<line x1="75.59" y1="185.88" x2="75.59" y2="186.39"/>
<line x1="75.59" y1="185.88" x2="76.90" y2="185.88"/>
<line x1="75.59" y1="186.39" x2="76.22" y2="186.39"/>
<line x1="75.24" y1="186.14" x2="75.24" y2="186.90"/>
<line x1="75.24" y1="186.14" x2="75.59" y2="186.14"/>
<line x1="75.24" y1="186.90" x2="76.90" y2="186.90"/>
<line x1="74.60" y1="185.37" x2="74.60" y2="186.52"/>
<line x1="74.60" y1="185.37" x2="75.43" y2="185.37"/>
<line x1="74.60" y1="186.52" x2="75.24" y2="186.52"/>
<line x1="70.60" y1="177.89" x2="70.60" y2="185.94"/>
<line x1="70.60" y1="177.89" x2="70.95" y2="177.89"/>
<line x1="70.60" y1="185.94" x2="74.60" y2="185.94"/>
<line x1="70.25" y1="168.86" x2="70.25" y2="181.92"/>
<line x1="70.25" y1="168.86" x2="73.63" y2="168.86"/>
<line x1="70.25" y1="181.92" x2="70.60" y2="181.92"/>
<line x1="75.54" y1="187.58" x2="75.54" y2="187.92"/>
<line x1="75.54" y1="187.58" x2="76.90" y2="187.58"/>
<line x1="75.54" y1="187.92" x2="76.90" y2="187.92"/>
<line x1="74.89" y1="187.24" x2="74.89" y2="187.75"/>
<line x1="74.89" y1="187.24" x2="76.90" y2="187.24"/>
<line x1="74.89" y1="187.75" x2="75.54" y2="187.75"/>
<line x1="76.07" y1="188.26" x2="76.07" y2="188.59"/>
<line x1="76.07" y1="188.26" x2="76.90" y2="188.26"/>
<line x1="76.07" y1="188.59" x2="76.90" y2="188.59"/>
<line x1="75.84" y1="188.93" x2="75.84" y2="189.27"/>
<line x1="75.84" y1="188.93" x2="76.90" y2="188.93"/>
<line x1="75.84" y1="189.27" x2="76.90" y2="189.27"/>
<line x1="74.99" y1="189.10" x2="74.99" y2="189.61"/>
<line x1="74.99" y1="189.10" x2="75.84" y2="189.10"/>
<line x1="74.99" y1="189.61" x2="76.90" y2="189.61"/>
<line x1="74.42" y1="189.36" x2="74.42" y2="189.95"/>
<line x1="74.42" y1="189.36" x2="74.99" y2="189.36"/>
<line x1="74.42" y1="189.95" x2="76.90" y2="189.95"/>
<line x1="73.58" y1="188.43" x2="73.58" y2="189.66"/>
<line x1="73.58" y1="188.43" x2="76.07" y2="188.43"/>
<line x1="73.58" y1="189.66" x2="74.42" y2="189.66"/>
<line x1="76.20" y1="190.29" x2="76.20" y2="190.63"/>
<line x1="76.20" y1="190.29" x2="76.90" y2="190.29"/>
<line x1="76.20" y1="190.63" x2="76.90" y2="190.63"/>
<line x1="72.70" y1="189.04" x2="72.70" y2="190.46"/>
<line x1="72.70" y1="189.04" x2="73.58" y2="189.04"/>
<line x1="72.70" y1="190.46" x2="76.20" y2="190.46"/>
<line x1="76.23" y1="190.97" x2="76.23" y2="191.31"/>
<line x1="76.23" y1="190.97" x2="76.90" y2="190.97"/>
<line x1="76.23" y1="191.31" x2="76.90" y2="191.31"/>
<line x1="72.25" y1="189.75" x2="72.25" y2="191.14"/>
<line x1="72.25" y1="189.75" x2="72.70" y2="189.75"/>
<line x1="72.25" y1="191.14" x2="76.23" y2="191.14"/>
<line x1="71.90" y1="190.44" x2="71.90" y2="191.65"/>
<line x1="71.90" y1="190.44" x2="72.25" y2="190.44"/>
<line x1="71.90" y1="191.65" x2="76.90" y2="191.65"/>
<line x1="71.55" y1="187.49" x2="71.55" y2="191.05"/>
<line x1="71.55" y1="187.49" x2="74.89" y2="187.49"/>
<line x1="71.55" y1="191.05" x2="71.90" y2="191.05"/>
<line x1="69.90" y1="175.39" x2="69.90" y2="189.27"/>
<line x1="69.90" y1="175.39" x2="70.25" y2="175.39"/>
<line x1="69.90" y1="189.27" x2="71.55" y2="189.27"/>
<line x1="75.86" y1="191.99" x2="75.86" y2="192.33"/>
<line x1="75.86" y1="191.99" x2="76.90" y2="191.99"/>
<line x1="75.86" y1="192.33" x2="76.90" y2="192.33"/>
<line x1="75.96" y1="193.01" x2="75.96" y2="193.34"/>
<line x1="75.96" y1="193.01" x2="76.90" y2="193.01"/>
<line x1="75.96" y1="193.34" x2="76.90" y2="193.34"/>
<line x1="75.61" y1="192.67" x2="75.61" y2="193.17"/>
<line x1="75.61" y1="192.67" x2="76.90" y2="192.67"/>
<line x1="75.61" y1="193.17" x2="75.96" y2="193.17"/>
<line x1="74.81" y1="192.16" x2="74.81" y2="192.92"/>
<line x1="74.81" y1="192.16" x2="75.86" y2="192.16"/>
<line x1="74.81" y1="192.92" x2="75.61" y2="192.92"/>
<line x1="76.00" y1="194.02" x2="76.00" y2="194.36"/>
<line x1="76.00" y1="194.02" x2="76.90" y2="194.02"/>
<line x1="76.00" y1="194.36" x2="76.90" y2="194.36"/>
<line x1="75.61" y1="193.68" x2="75.61" y2="194.19"/>
<line x1="75.61" y1="193.68" x2="76.90" y2="193.68"/>
<line x1="75.61" y1="194.19" x2="76.00" y2="194.19"/>
<line x1="73.57" y1="192.54" x2="73.57" y2="193.94"/>
<line x1="73.57" y1="192.54" x2="74.81" y2="192.54"/>
<line x1="73.57" y1="193.94" x2="75.61" y2="193.94"/>
<line x1="69.55" y1="182.33" x2="69.55" y2="193.24"/>
<line x1="69.55" y1="182.33" x2="69.90" y2="182.33"/>
<line x1="69.55" y1="193.24" x2="73.57" y2="193.24"/>
<line x1="69.20" y1="166.95" x2="69.20" y2="187.78"/>
<line x1="69.20" y1="166.95" x2="73.43" y2="166.95"/>
<line x1="69.20" y1="187.78" x2="69.55" y2="187.78"/>
<line x1="76.19" y1="194.70" x2="76.19" y2="195.04"/>
<line x1="76.19" y1="194.70" x2="76.90" y2="194.70"/>
<line x1="76.19" y1="195.04" x2="76.90" y2="195.04"/>
<line x1="75.29" y1="194.87" x2="75.29" y2="195.38"/>
<line x1="75.29" y1="194.87" x2="76.19" y2="194.87"/>
<line x1="75.29" y1="195.38" x2="76.90" y2="195.38"/>
<line x1="76.25" y1="195.72" x2="76.25" y2="196.06"/>
<line x1="76.25" y1="195.72" x2="76.90" y2="195.72"/>
<line x1="76.25" y1="196.06" x2="76.90" y2="196.06"/>
<line x1="75.89" y1="195.89" x2="75.89" y2="196.40"/>
<line x1="75.89" y1="195.89" x2="76.25" y2="195.89"/>
<line x1="75.89" y1="196.40" x2="76.90" y2="196.40"/>
<line x1="74.76" y1="195.13" x2="74.76" y2="196.14"/>
<line x1="74.76" y1="195.13" x2="75.29" y2="195.13"/>
<line x1="74.76" y1="196.14" x2="75.89" y2="196.14"/>
<line x1="74.41" y1="195.63" x2="74.41" y2="196.74"/>
<line x1="74.41" y1="195.63" x2="74.76" y2="195.63"/>
<line x1="74.41" y1="196.74" x2="76.90" y2="196.74"/>
<line x1="76.32" y1="197.08" x2="76.32" y2="197.42"/>
<line x1="76.32" y1="197.08" x2="76.90" y2="197.08"/>
<line x1="76.32" y1="197.42" x2="76.90" y2="197.42"/>
<line x1="75.97" y1="197.25" x2="75.97" y2="197.75"/>
<line x1="75.97" y1="197.25" x2="76.32" y2="197.25"/>
<line x1="75.97" y1="197.75" x2="76.90" y2="197.75"/>
<line x1="74.93" y1="197.50" x2="74.93" y2="198.09"/>
<line x1="74.93" y1="197.50" x2="75.97" y2="197.50"/>
<line x1="74.93" y1="198.09" x2="76.90" y2="198.09"/>
<line x1="75.81" y1="198.77" x2="75.81" y2="199.11"/>
<line x1="75.81" y1="198.77" x2="76.90" y2="198.77"/>
<line x1="75.81" y1="199.11" x2="76.90" y2="199.11"/>
<line x1="75.46" y1="198.43" x2="75.46" y2="198.94"/>
<line x1="75.46" y1="198.43" x2="76.90" y2="198.43"/>
<line x1="75.46" y1="198.94" x2="75.81" y2="198.94"/>
<line x1="74.59" y1="198.69" x2="74.59" y2="199.45"/>
<line x1="74.59" y1="198.69" x2="75.46" y2="198.69"/>
<line x1="74.59" y1="199.45" x2="76.90" y2="199.45"/>
<line x1="74.24" y1="197.80" x2="74.24" y2="199.07"/>
<line x1="74.24" y1="197.80" x2="74.93" y2="197.80"/>
<line x1="74.24" y1="199.07" x2="74.59" y2="199.07"/>
<line x1="71.82" y1="196.19" x2="71.82" y2="198.43"/>
<line x1="71.82" y1="196.19" x2="74.41" y2="196.19"/>
<line x1="71.82" y1="198.43" x2="74.24" y2="198.43"/>
<line x1="68.85" y1="177.37" x2="68.85" y2="197.31"/>
<line x1="68.85" y1="177.37" x2="69.20" y2="177.37"/>
<line x1="68.85" y1="197.31" x2="71.82" y2="197.31"/>
<line x1="76.22" y1="199.79" x2="76.22" y2="200.13"/>
<line x1="76.22" y1="199.79" x2="76.90" y2="199.79"/>
<line x1="76.22" y1="200.13" x2="76.90" y2="200.13"/>
<line x1="75.87" y1="199.96" x2="75.87" y2="200.47"/>
<line x1="75.87" y1="199.96" x2="76.22" y2="199.96"/>
<line x1="75.87" y1="200.47" x2="76.90" y2="200.47"/>
<line x1="75.52" y1="200.21" x2="75.52" y2="200.81"/>
<line x1="75.52" y1="200.21" x2="75.87" y2="200.21"/>
<line x1="75.52" y1="200.81" x2="76.90" y2="200.81"/>
<line x1="75.52" y1="201.15" x2="75.52" y2="201.49"/>
<line x1="75.52" y1="201.15" x2="76.90" y2="201.15"/>
<line x1="75.52" y1="201.49" x2="76.90" y2="201.49"/>
<line x1="75.17" y1="200.51" x2="75.17" y2="201.32"/>
<line x1="75.17" y1="200.51" x2="75.52" y2="200.51"/>
<line x1="75.17" y1="201.32" x2="75.52" y2="201.32"/>
<line x1="73.43" y1="200.91" x2="73.43" y2="201.83"/>
<line x1="73.43" y1="200.91" x2="75.17" y2="200.91"/>
<line x1="73.43" y1="201.83" x2="76.90" y2="201.83"/>
<line x1="76.13" y1="202.84" x2="76.13" y2="203.18"/>
<line x1="76.13" y1="202.84" x2="76.90" y2="202.84"/>
<line x1="76.13" y1="203.18" x2="76.90" y2="203.18"/>
<line x1="75.78" y1="203.01" x2="75.78" y2="203.52"/>
<line x1="75.78" y1="203.01" x2="76.13" y2="203.01"/>
<line x1="75.78" y1="203.52" x2="76.90" y2="203.52"/>
<line x1="75.43" y1="202.50" x2="75.43" y2="203.27"/>
<line x1="75.43" y1="202.50" x2="76.90" y2="202.50"/>
<line x1="75.43" y1="203.27" x2="75.78" y2="203.27"/>
<line x1="75.08" y1="202.16" x2="75.08" y2="202.89"/>
<line x1="75.08" y1="202.16" x2="76.90" y2="202.16"/>
<line x1="75.08" y1="202.89" x2="75.43" y2="202.89"/>
<line x1="75.69" y1="203.86" x2="75.69" y2="204.20"/>
<line x1="75.69" y1="203.86" x2="76.90" y2="203.86"/>
<line x1="75.69" y1="204.20" x2="76.90" y2="204.20"/>
<line x1="76.09" y1="204.88" x2="76.09" y2="205.22"/>
<line x1="76.09" y1="204.88" x2="76.90" y2="204.88"/>
<line x1="76.09" y1="205.22" x2="76.90" y2="205.22"/>
<line x1="75.74" y1="205.05" x2="75.74" y2="205.56"/>
<line x1="75.74" y1="205.05" x2="76.09" y2="205.05"/>
<line x1="75.74" y1="205.56" x2="76.90" y2="205.56"/>
<line x1="74.59" y1="204.54" x2="74.59" y2="205.30"/>
<line x1="74.59" y1="204.54" x2="76.90" y2="204.54"/>
<line x1="74.59" y1="205.30" x2="75.74" y2="205.30"/>
<line x1="73.69" y1="204.03" x2="73.69" y2="204.92"/>
<line x1="73.69" y1="204.03" x2="75.69" y2="204.03"/>
<line x1="73.69" y1="204.92" x2="74.59" y2="204.92"/>
<line x1="72.62" y1="202.52" x2="72.62" y2="204.48"/>
<line x1="72.62" y1="202.52" x2="75.08" y2="202.52"/>
<line x1="72.62" y1="204.48" x2="73.69" y2="204.48"/>
<line x1="76.11" y1="205.90" x2="76.11" y2="206.24"/>
<line x1="76.11" y1="205.90" x2="76.90" y2="205.90"/>
<line x1="76.11" y1="206.24" x2="76.90" y2="206.24"/>
<line x1="72.27" y1="203.50" x2="72.27" y2="206.07"/>
<line x1="72.27" y1="203.50" x2="72.62" y2="203.50"/>
<line x1="72.27" y1="206.07" x2="76.11" y2="206.07"/>
<line x1="75.60" y1="206.57" x2="75.60" y2="206.91"/>
<line x1="75.60" y1="206.57" x2="76.90" y2="206.57"/>
<line x1="75.60" y1="206.91" x2="76.90" y2="206.91"/>
<line x1="70.60" y1="204.78" x2="70.60" y2="206.74"/>
<line x1="70.60" y1="204.78" x2="72.27" y2="204.78"/>
<line x1="70.60" y1="206.74" x2="75.60" y2="206.74"/>
<line x1="76.24" y1="207.93" x2="76.24" y2="208.27"/>
<line x1="76.24" y1="207.93" x2="76.90" y2="207.93"/>
<line x1="76.24" y1="208.27" x2="76.90" y2="208.27"/>
<line x1="75.64" y1="207.59" x2="75.64" y2="208.10"/>
<line x1="75.64" y1="207.59" x2="76.90" y2="207.59"/>
<line x1="75.64" y1="208.10" x2="76.24" y2="208.10"/>
<line x1="75.22" y1="207.25" x2="75.22" y2="207.85"/>
<line x1="75.22" y1="207.25" x2="76.90" y2="207.25"/>
<line x1="75.22" y1="207.85" x2="75.64" y2="207.85"/>
<line x1="70.25" y1="205.76" x2="70.25" y2="207.55"/>
<line x1="70.25" y1="205.76" x2="70.60" y2="205.76"/>
<line x1="70.25" y1="207.55" x2="75.22" y2="207.55"/>
<line x1="69.90" y1="201.37" x2="69.90" y2="206.66"/>
<line x1="69.90" y1="201.37" x2="73.43" y2="201.37"/>
<line x1="69.90" y1="206.66" x2="70.25" y2="206.66"/>
<line x1="75.61" y1="208.61" x2="75.61" y2="208.95"/>
<line x1="75.61" y1="208.61" x2="76.90" y2="208.61"/>
<line x1="75.61" y1="208.95" x2="76.90" y2="208.95"/>
<line x1="75.97" y1="209.97" x2="75.97" y2="210.31"/>
<line x1="75.97" y1="209.97" x2="76.90" y2="209.97"/>
<line x1="75.97" y1="210.31" x2="76.90" y2="210.31"/>
<line x1="75.62" y1="209.63" x2="75.62" y2="210.14"/>
<line x1="75.62" y1="209.63" x2="76.90" y2="209.63"/>
<line x1="75.62" y1="210.14" x2="75.97" y2="210.14"/>
<line x1="75.27" y1="209.29" x2="75.27" y2="209.88"/>
<line x1="75.27" y1="209.29" x2="76.90" y2="209.29"/>
<line x1="75.27" y1="209.88" x2="75.62" y2="209.88"/>
<line x1="74.89" y1="208.78" x2="74.89" y2="209.59"/>
<line x1="74.89" y1="208.78" x2="75.61" y2="208.78"/>
<line x1="74.89" y1="209.59" x2="75.27" y2="209.59"/>
<line x1="69.55" y1="204.01" x2="69.55" y2="209.18"/>
<line x1="69.55" y1="204.01" x2="69.90" y2="204.01"/>
<line x1="69.55" y1="209.18" x2="74.89" y2="209.18"/>
<line x1="76.29" y1="211.66" x2="76.29" y2="212.00"/>
<line x1="76.29" y1="211.66" x2="76.90" y2="211.66"/>
<line x1="76.29" y1="212.00" x2="76.90" y2="212.00"/>
<line x1="75.94" y1="211.32" x2="75.94" y2="211.83"/>
<line x1="75.94" y1="211.32" x2="76.90" y2="211.32"/>
<line x1="75.94" y1="211.83" x2="76.29" y2="211.83"/>
<line x1="75.50" y1="210.98" x2="75.50" y2="211.58"/>
<line x1="75.50" y1="210.98" x2="76.90" y2="210.98"/>
<line x1="75.50" y1="211.58" x2="75.94" y2="211.58"/>
<line x1="75.15" y1="210.65" x2="75.15" y2="211.28"/>
<line x1="75.15" y1="210.65" x2="76.90" y2="210.65"/>
<line x1="75.15" y1="211.28" x2="75.50" y2="211.28"/>
<line x1="74.80" y1="210.96" x2="74.80" y2="212.34"/>
<line x1="74.80" y1="210.96" x2="75.15" y2="210.96"/>
<line x1="74.80" y1="212.34" x2="76.90" y2="212.34"/>
<line x1="69.20" y1="206.60" x2="69.20" y2="211.65"/>
<line x1="69.20" y1="206.60" x2="69.55" y2="206.60"/>
<line x1="69.20" y1="211.65" x2="74.80" y2="211.65"/>
<line x1="76.08" y1="212.68" x2="76.08" y2="213.02"/>
<line x1="76.08" y1="212.68" x2="76.90" y2="212.68"/>
<line x1="76.08" y1="213.02" x2="76.90" y2="213.02"/>
<line x1="75.73" y1="212.85" x2="75.73" y2="213.36"/>
<line x1="75.73" y1="212.85" x2="76.08" y2="212.85"/>
<line x1="75.73" y1="213.36" x2="76.90" y2="213.36"/>
<line x1="75.45" y1="213.70" x2="75.45" y2="214.04"/>
<line x1="75.45" y1="213.70" x2="76.90" y2="213.70"/>
<line x1="75.45" y1="214.04" x2="76.90" y2="214.04"/>
<line x1="74.91" y1="213.87" x2="74.91" y2="214.38"/>
<line x1="74.91" y1="213.87" x2="75.45" y2="213.87"/>
<line x1="74.91" y1="214.38" x2="76.90" y2="214.38"/>
<line x1="74.56" y1="213.11" x2="74.56" y2="214.12"/>
<line x1="74.56" y1="213.11" x2="75.73" y2="213.11"/>
<line x1="74.56" y1="214.12" x2="74.91" y2="214.12"/>
<line x1="75.93" y1="214.72" x2="75.93" y2="215.06"/>
<line x1="75.93" y1="214.72" x2="76.90" y2="214.72"/>
<line x1="75.93" y1="215.06" x2="76.90" y2="215.06"/>
<line x1="75.58" y1="214.89" x2="75.58" y2="215.39"/>
<line x1="75.58" y1="214.89" x2="75.93" y2="214.89"/>
<line x1="75.58" y1="215.39" x2="76.90" y2="215.39"/>
<line x1="75.10" y1="215.14" x2="75.10" y2="215.73"/>
<line x1="75.10" y1="215.14" x2="75.58" y2="215.14"/>
<line x1="75.10" y1="215.73" x2="76.90" y2="215.73"/>
<line x1="73.57" y1="213.61" x2="73.57" y2="215.44"/>
<line x1="73.57" y1="213.61" x2="74.56" y2="213.61"/>
<line x1="73.57" y1="215.44" x2="75.10" y2="215.44"/>
<line x1="76.16" y1="217.09" x2="76.16" y2="217.43"/>
<line x1="76.16" y1="217.09" x2="76.90" y2="217.09"/>
<line x1="76.16" y1="217.43" x2="76.90" y2="217.43"/>
<line x1="75.81" y1="216.75" x2="75.81" y2="217.26"/>
<line x1="75.81" y1="216.75" x2="76.90" y2="216.75"/>
<line x1="75.81" y1="217.26" x2="76.16" y2="217.26"/>
<line x1="75.46" y1="216.41" x2="75.46" y2="217.01"/>
<line x1="75.46" y1="216.41" x2="76.90" y2="216.41"/>
<line x1="75.46" y1="217.01" x2="75.81" y2="217.01"/>
<line x1="75.11" y1="216.07" x2="75.11" y2="216.71"/>
<line x1="75.11" y1="216.07" x2="76.90" y2="216.07"/>
<line x1="75.11" y1="216.71" x2="75.46" y2="216.71"/>
<line x1="73.14" y1="214.53" x2="73.14" y2="216.39"/>
<line x1="73.14" y1="214.53" x2="73.57" y2="214.53"/>
<line x1="73.14" y1="216.39" x2="75.11" y2="216.39"/>
<line x1="68.85" y1="209.13" x2="68.85" y2="215.46"/>
<line x1="68.85" y1="209.13" x2="69.20" y2="209.13"/>
<line x1="68.85" y1="215.46" x2="73.14" y2="215.46"/>
<line x1="68.50" y1="187.34" x2="68.50" y2="212.29"/>
<line x1="68.50" y1="187.34" x2="68.85" y2="187.34"/>
<line x1="68.50" y1="212.29" x2="68.85" y2="212.29"/>
<line x1="61.70" y1="160.50" x2="61.70" y2="192.90"/>
<line x1="61.70" y1="160.50" x2="69.00" y2="160.50"/>
<line x1="61.70" y1="192.90" x2="68.50" y2="192.90"/>
<line x1="54.10" y1="156.40" x2="54.10" y2="176.70"/>
<line x1="54.10" y1="156.40" x2="57.00" y2="156.40"/>
<line x1="54.10" y1="176.70" x2="61.70" y2="176.70"/>
<line x1="22.20" y1="101.60" x2="22.20" y2="166.50"/>
<line x1="22.20" y1="101.60" x2="45.90" y2="101.60"/>
<line x1="22.20" y1="166.50" x2="54.10" y2="166.50"/>
</g>
<text x="7.60" y="253.60" font-size="10.2" fill="#111" text-anchor="start" >B</text>
<line x1="49.40" y1="257.00" x2="49.40" y2="364.50" stroke="#222" stroke-width="1" />
<line x1="46.40" y1="364.00" x2="49.40" y2="364.00" stroke="#222" stroke-width="0.8" />
<text x="43.00" y="366.00" font-size="5.7" fill="#333" text-anchor="end" >0</text>
<line x1="46.40" y1="356.02" x2="49.40" y2="356.02" stroke="#222" stroke-width="0.8" />
<text x="43.00" y="358.02" font-size="5.7" fill="#333" text-anchor="end" >1</text>
<line x1="46.40" y1="348.04" x2="49.40" y2="348.04" stroke="#222" stroke-width="0.8" />
<text x="43.00" y="350.04" font-size="5.7" fill="#333" text-anchor="end" >2</text>
<line x1="46.40" y1="340.06" x2="49.40" y2="340.06" stroke="#222" stroke-width="0.8" />
<text x="43.00" y="342.06" font-size="5.7" fill="#333" text-anchor="end" >3</text>
<line x1="46.40" y1="332.08" x2="49.40" y2="332.08" stroke="#222" stroke-width="0.8" />
<text x="43.00" y="334.08" font-size="5.7" fill="#333" text-anchor="end" >4</text>
<line x1="46.40" y1="324.10" x2="49.40" y2="324.10" stroke="#222" stroke-width="0.8" />
<text x="43.00" y="326.10" font-size="5.7" fill="#333" text-anchor="end" >5</text>
<line x1="46.40" y1="316.12" x2="49.40" y2="316.12" stroke="#222" stroke-width="0.8" />
<text x="43.00" y="318.12" font-size="5.7" fill="#333" text-anchor="end" >6</text>
<line x1="46.40" y1="308.14" x2="49.40" y2="308.14" stroke="#222" stroke-width="0.8" />
<text x="43.00" y="310.14" font-size="5.7" fill="#333" text-anchor="end" >7</text>
<line x1="46.40" y1="300.16" x2="49.40" y2="300.16" stroke="#222" stroke-width="0.8" />
<text x="43.00" y="302.16" font-size="5.7" fill="#333" text-anchor="end" >8</text>
<line x1="46.40" y1="292.18" x2="49.40" y2="292.18" stroke="#222" stroke-width="0.8" />
<text x="43.00" y="294.18" font-size="5.7" fill="#333" text-anchor="end" >9</text>
<line x1="46.40" y1="284.20" x2="49.40" y2="284.20" stroke="#222" stroke-width="0.8" />
<text x="43.00" y="286.20" font-size="5.7" fill="#333" text-anchor="end" >10</text>
<line x1="46.40" y1="276.22" x2="49.40" y2="276.22" stroke="#222" stroke-width="0.8" />
<text x="43.00" y="278.22" font-size="5.7" fill="#333" text-anchor="end" >11</text>
<line x1="46.40" y1="268.24" x2="49.40" y2="268.24" stroke="#222" stroke-width="0.8" />
<text x="43.00" y="270.24" font-size="5.7" fill="#333" text-anchor="end" >12</text>
<line x1="46.40" y1="260.26" x2="49.40" y2="260.26" stroke="#222" stroke-width="0.8" />
<text x="43.00" y="262.26" font-size="5.7" fill="#333" text-anchor="end" >13</text>
<line x1="48.90" y1="364.00" x2="286.00" y2="364.00" stroke="#2a2a2a" stroke-width="1.4" />
<text transform="translate(29.7,310.3) rotate(-90)" font-size="9.2" fill="#222" text-anchor="middle" textLength="143.5" lengthAdjust="spacingAndGlyphs">Relative gene expression (fold change)</text>
<rect x="52.30" y="263.20" width="4.90" height="2.80" fill="#b9bd8d" />
<text x="59.80" y="266.40" font-size="4.7" fill="#333" text-anchor="start" >CD41</text>
<rect x="84.20" y="263.20" width="4.90" height="2.80" fill="#a5203a" />
<text x="92.00" y="266.40" font-size="4.7" fill="#333" text-anchor="start" >CXCL8</text>
<rect x="119.60" y="263.20" width="4.90" height="2.80" fill="#5d3568" />
<text x="127.60" y="266.40" font-size="4.7" fill="#333" text-anchor="start" >CXCR4</text>
<rect x="156.20" y="263.20" width="4.90" height="2.80" fill="#f1c232" />
<text x="164.00" y="266.40" font-size="4.7" fill="#333" text-anchor="start" >GATA2</text>
<rect x="190.50" y="263.20" width="4.90" height="2.80" fill="#e0912e" />
<text x="198.00" y="266.40" font-size="4.7" fill="#333" text-anchor="start" >VWF</text>
<rect x="61.00" y="356.02" width="4.70" height="7.98" fill="#b9bd8d" />
<line x1="63.35" y1="354.26" x2="63.35" y2="357.22" stroke="#a4a4a4" stroke-width="1.0" />
<line x1="61.95" y1="354.26" x2="64.75" y2="354.26" stroke="#666" stroke-width="0.8" />
<line x1="62.05" y1="357.22" x2="64.65" y2="357.22" stroke="#888" stroke-width="0.6" />
<text transform="translate(63.35,353.40) scale(0.92,1)" font-size="6" fill="#222" text-anchor="middle">1</text>
<rect x="73.60" y="356.02" width="4.70" height="7.98" fill="#a5203a" />
<text transform="translate(75.95,353.40) scale(0.92,1)" font-size="6" fill="#222" text-anchor="middle">1</text>
<rect x="86.20" y="356.02" width="4.70" height="7.98" fill="#5d3568" />
<line x1="88.55" y1="354.42" x2="88.55" y2="357.22" stroke="#a4a4a4" stroke-width="1.0" />
<line x1="87.15" y1="354.42" x2="89.95" y2="354.42" stroke="#666" stroke-width="0.8" />
<line x1="87.25" y1="357.22" x2="89.85" y2="357.22" stroke="#888" stroke-width="0.6" />
<text transform="translate(88.55,353.40) scale(0.92,1)" font-size="6" fill="#222" text-anchor="middle">1</text>
<rect x="98.80" y="356.02" width="4.70" height="7.98" fill="#f1c232" />
<line x1="101.15" y1="354.66" x2="101.15" y2="357.14" stroke="#a4a4a4" stroke-width="1.0" />
<line x1="99.75" y1="354.66" x2="102.55" y2="354.66" stroke="#666" stroke-width="0.8" />
<line x1="99.85" y1="357.14" x2="102.45" y2="357.14" stroke="#888" stroke-width="0.6" />
<text transform="translate(101.15,353.40) scale(0.92,1)" font-size="6" fill="#222" text-anchor="middle">1</text>
<rect x="111.40" y="356.02" width="4.70" height="7.98" fill="#e0912e" />
<text transform="translate(113.75,353.40) scale(0.92,1)" font-size="6" fill="#222" text-anchor="middle">1</text>
<rect x="140.00" y="346.05" width="4.70" height="17.96" fill="#b9bd8d" />
<line x1="142.35" y1="343.65" x2="142.35" y2="348.44" stroke="#a4a4a4" stroke-width="1.0" />
<line x1="140.95" y1="343.65" x2="143.75" y2="343.65" stroke="#666" stroke-width="0.8" />
<line x1="141.05" y1="348.44" x2="143.65" y2="348.44" stroke="#888" stroke-width="0.6" />
<text transform="translate(142.35,342.90) scale(0.92,1)" font-size="6" fill="#222" text-anchor="middle">2.25</text>
<rect x="152.60" y="350.18" width="4.70" height="13.82" fill="#a5203a" />
<line x1="154.95" y1="346.84" x2="154.95" y2="353.23" stroke="#a4a4a4" stroke-width="1.0" />
<line x1="153.55" y1="346.84" x2="156.35" y2="346.84" stroke="#666" stroke-width="0.8" />
<line x1="153.65" y1="353.23" x2="156.25" y2="353.23" stroke="#888" stroke-width="0.6" />
<text transform="translate(154.95,348.90) scale(0.92,1)" font-size="6" fill="#222" text-anchor="middle">1.732</text>
<rect x="165.20" y="354.23" width="4.70" height="9.77" fill="#5d3568" />
<line x1="167.55" y1="352.99" x2="167.55" y2="355.38" stroke="#a4a4a4" stroke-width="1.0" />
<line x1="166.15" y1="352.99" x2="168.95" y2="352.99" stroke="#666" stroke-width="0.8" />
<line x1="166.25" y1="355.38" x2="168.85" y2="355.38" stroke="#888" stroke-width="0.6" />
<text transform="translate(167.55,352.60) scale(0.92,1)" font-size="6" fill="#222" text-anchor="middle">1.224</text>
<rect x="177.80" y="341.51" width="4.70" height="22.49" fill="#f1c232" />
<line x1="180.15" y1="336.87" x2="180.15" y2="345.65" stroke="#a4a4a4" stroke-width="1.0" />
<line x1="178.75" y1="336.87" x2="181.55" y2="336.87" stroke="#666" stroke-width="0.8" />
<line x1="178.85" y1="345.65" x2="181.45" y2="345.65" stroke="#888" stroke-width="0.6" />
<text transform="translate(180.15,340.90) scale(0.92,1)" font-size="6" fill="#222" text-anchor="middle">2.818</text>
<rect x="190.40" y="320.39" width="4.70" height="43.61" fill="#e0912e" />
<line x1="192.75" y1="306.54" x2="192.75" y2="334.47" stroke="#a4a4a4" stroke-width="1.0" />
<line x1="191.35" y1="306.54" x2="194.15" y2="306.54" stroke="#666" stroke-width="0.8" />
<line x1="191.45" y1="334.47" x2="194.05" y2="334.47" stroke="#888" stroke-width="0.6" />
<text transform="translate(192.75,319.70) scale(0.92,1)" font-size="6" fill="#222" text-anchor="middle">5.465</text>
<rect x="219.10" y="343.47" width="4.70" height="20.53" fill="#b9bd8d" />
<line x1="221.45" y1="318.99" x2="221.45" y2="354.58" stroke="#a4a4a4" stroke-width="1.0" />
<line x1="220.05" y1="318.99" x2="222.85" y2="318.99" stroke="#666" stroke-width="0.8" />
<line x1="220.15" y1="354.58" x2="222.75" y2="354.58" stroke="#888" stroke-width="0.6" />
<text transform="translate(221.45,342.80) scale(0.92,1)" font-size="6" fill="#222" text-anchor="middle">2.573</text>
<rect x="231.70" y="330.20" width="4.70" height="33.80" fill="#a5203a" />
<line x1="234.05" y1="278.61" x2="234.05" y2="350.67" stroke="#a4a4a4" stroke-width="1.0" />
<line x1="232.65" y1="278.61" x2="235.45" y2="278.61" stroke="#666" stroke-width="0.8" />
<line x1="232.75" y1="350.67" x2="235.35" y2="350.67" stroke="#888" stroke-width="0.6" />
<text transform="translate(234.05,329.20) scale(0.92,1)" font-size="6" fill="#222" text-anchor="middle">4.235</text>
<rect x="244.30" y="343.83" width="4.70" height="20.17" fill="#5d3568" />
<line x1="246.65" y1="300.48" x2="246.65" y2="357.46" stroke="#a4a4a4" stroke-width="1.0" />
<line x1="245.25" y1="300.48" x2="248.05" y2="300.48" stroke="#666" stroke-width="0.8" />
<line x1="245.35" y1="357.46" x2="247.95" y2="357.46" stroke="#888" stroke-width="0.6" />
<text transform="translate(246.65,342.90) scale(0.92,1)" font-size="6" fill="#222" text-anchor="middle">2.528</text>
<rect x="256.90" y="339.14" width="4.70" height="24.86" fill="#f1c232" />
<line x1="259.25" y1="328.09" x2="259.25" y2="347.24" stroke="#a4a4a4" stroke-width="1.0" />
<line x1="257.85" y1="328.09" x2="260.65" y2="328.09" stroke="#666" stroke-width="0.8" />
<line x1="257.95" y1="347.24" x2="260.55" y2="347.24" stroke="#888" stroke-width="0.6" />
<text transform="translate(259.25,338.40) scale(0.92,1)" font-size="6" fill="#222" text-anchor="middle">3.115</text>
<rect x="269.50" y="325.94" width="4.70" height="38.06" fill="#e0912e" />
<line x1="271.85" y1="268.48" x2="271.85" y2="349.48" stroke="#a4a4a4" stroke-width="1.0" />
<line x1="270.45" y1="268.48" x2="273.25" y2="268.48" stroke="#666" stroke-width="0.8" />
<line x1="270.55" y1="349.48" x2="273.15" y2="349.48" stroke="#888" stroke-width="0.6" />
<text transform="translate(271.85,324.90) scale(0.92,1)" font-size="6" fill="#222" text-anchor="middle">4.366</text>
<line x1="61.20" y1="333.70" x2="142.30" y2="333.70" stroke="#444" stroke-width="1.3" />
<circle cx="101.9" cy="330.8" r="0.8" fill="#666"/>
<line x1="113.80" y1="303.40" x2="193.30" y2="303.40" stroke="#333" stroke-width="1.2" />
<circle cx="153.5" cy="300.6" r="0.75" fill="#333"/>
<text x="89.00" y="373.00" font-size="6.2" fill="#222" text-anchor="middle" >No DWJM</text>
<text x="167.30" y="373.20" font-size="6.2" fill="#222" text-anchor="middle" >DWJM-</text>
<text x="167.30" y="381.20" font-size="6.2" fill="#222" text-anchor="middle" >adherent</text>
<text x="246.90" y="372.40" font-size="6.2" fill="#222" text-anchor="middle" >DWJM-non-</text>
<text x="246.90" y="381.20" font-size="6.2" fill="#222" text-anchor="middle" >adherent</text>
<text transform="translate(312.6,18.3) scale(0.9,1)" font-size="12.4" fill="#111">C</text>
<text x="327.80" y="27.90" font-size="8.2" fill="#222" text-anchor="start" >(i)</text>
<text x="331.70" y="163.90" font-size="7.5" fill="#222" text-anchor="start" >(ii)</text>
<line x1="422.40" y1="20.80" x2="422.40" y2="142.80" stroke="#111" stroke-width="1.2" />
<line x1="421.80" y1="142.30" x2="494.90" y2="142.30" stroke="#111" stroke-width="1.1" />
<rect x="425.60" y="21.90" width="61.10" height="3.93" fill="#c1553a" />
<line x1="419.40" y1="23.90" x2="422.40" y2="23.90" stroke="#111" stroke-width="0.85" />
<text transform="translate(416,25.10) scale(1,1)" font-size="3.6" fill="#444" text-anchor="end">CD34+</text>
<rect x="425.60" y="26.03" width="49.60" height="3.93" fill="#d5803a" />
<line x1="419.40" y1="28.03" x2="422.40" y2="28.03" stroke="#111" stroke-width="0.85" />
<text transform="translate(416,29.23) scale(1,1)" font-size="3.6" fill="#444" text-anchor="end">CD71+ Early Erythroid</text>
<rect x="425.60" y="30.16" width="48.20" height="3.93" fill="#d5843a" />
<line x1="419.40" y1="32.16" x2="422.40" y2="32.16" stroke="#111" stroke-width="0.85" />
<text transform="translate(416,33.36) scale(1,1)" font-size="3.6" fill="#444" text-anchor="end">Adrenal Cortex</text>
<rect x="425.60" y="34.29" width="47.90" height="3.93" fill="#d5883a" />
<line x1="419.40" y1="36.29" x2="422.40" y2="36.29" stroke="#111" stroke-width="0.85" />
<text transform="translate(416,37.49) scale(1,1)" font-size="3.6" fill="#444" text-anchor="end">Lung</text>
<rect x="425.60" y="38.42" width="43.40" height="3.93" fill="#d99a3c" />
<line x1="419.40" y1="40.42" x2="422.40" y2="40.42" stroke="#111" stroke-width="0.85" />
<text transform="translate(416,41.62) scale(1,1)" font-size="3.6" fill="#444" text-anchor="end">Bone Marrow</text>
<rect x="425.60" y="42.55" width="35.40" height="3.93" fill="#cdb242" />
<line x1="419.40" y1="44.55" x2="422.40" y2="44.55" stroke="#111" stroke-width="0.85" />
<text transform="translate(416,45.75) scale(1,1)" font-size="3.6" fill="#444" text-anchor="end">CD105+ Endothelial</text>
<rect x="425.60" y="46.68" width="28.20" height="3.93" fill="#b3c052" />
<line x1="419.40" y1="48.68" x2="422.40" y2="48.68" stroke="#111" stroke-width="0.85" />
<text transform="translate(416,49.88) scale(1,1)" font-size="3.6" fill="#444" text-anchor="end">Smooth Muscle</text>
<rect x="425.60" y="50.81" width="26.40" height="3.93" fill="#a8ba50" />
<line x1="419.40" y1="52.81" x2="422.40" y2="52.81" stroke="#111" stroke-width="0.85" />
<text transform="translate(416,54.01) scale(1,1)" font-size="3.6" fill="#444" text-anchor="end">Olfactory Bulb</text>
<rect x="425.60" y="54.94" width="24.20" height="3.93" fill="#a0b650" />
<line x1="419.40" y1="56.94" x2="422.40" y2="56.94" stroke="#111" stroke-width="0.85" />
<text transform="translate(416,58.14) scale(1,1)" font-size="3.6" fill="#444" text-anchor="end">Bronchial Epithelial Cells</text>
<rect x="425.60" y="59.07" width="24.00" height="3.93" fill="#9cb450" />
<line x1="419.40" y1="61.07" x2="422.40" y2="61.07" stroke="#111" stroke-width="0.85" />
<text transform="translate(416,62.27) scale(1,1)" font-size="3.6" fill="#444" text-anchor="end">CD33+ Myeloid</text>
<rect x="425.60" y="63.20" width="23.40" height="3.93" fill="#98b24e" />
<line x1="419.40" y1="65.20" x2="422.40" y2="65.20" stroke="#111" stroke-width="0.85" />
<text transform="translate(416,66.40) scale(1,1)" font-size="3.6" fill="#444" text-anchor="end">Fetal Liver</text>
<rect x="425.60" y="67.33" width="22.80" height="3.93" fill="#94b04e" />
<line x1="419.40" y1="69.33" x2="422.40" y2="69.33" stroke="#111" stroke-width="0.85" />
<text transform="translate(416,70.53) scale(1,1)" font-size="3.6" fill="#444" text-anchor="end">Lymph Node</text>
<rect x="425.60" y="71.46" width="21.30" height="3.93" fill="#8eae4e" />
<line x1="419.40" y1="73.46" x2="422.40" y2="73.46" stroke="#111" stroke-width="0.85" />
<text transform="translate(416,74.66) scale(1,1)" font-size="3.6" fill="#444" text-anchor="end">Fetal Lung</text>
<rect x="425.60" y="75.59" width="17.40" height="3.93" fill="#86aa4c" />
<line x1="419.40" y1="77.59" x2="422.40" y2="77.59" stroke="#111" stroke-width="0.85" />
<text transform="translate(416,78.79) scale(1,1)" font-size="3.6" fill="#444" text-anchor="end">Retina</text>
<rect x="425.60" y="79.72" width="17.30" height="3.93" fill="#82a84c" />
<line x1="419.40" y1="81.72" x2="422.40" y2="81.72" stroke="#111" stroke-width="0.85" />
<text transform="translate(416,82.92) scale(1,1)" font-size="3.6" fill="#444" text-anchor="end">Placenta</text>
<rect x="425.60" y="83.85" width="17.20" height="3.93" fill="#7ea64a" />
<line x1="419.40" y1="85.85" x2="422.40" y2="85.85" stroke="#111" stroke-width="0.85" />
<text transform="translate(416,87.05) scale(1,1)" font-size="3.6" fill="#444" text-anchor="end">CD4+ T Cells</text>
<rect x="425.60" y="87.98" width="17.10" height="3.93" fill="#7aa64a" />
<line x1="419.40" y1="89.98" x2="422.40" y2="89.98" stroke="#111" stroke-width="0.85" />
<text transform="translate(416,91.18) scale(1,1)" font-size="3.6" fill="#444" text-anchor="end">CD19+ B cells</text>
<rect x="425.60" y="92.11" width="17.00" height="3.93" fill="#78a44a" />
<line x1="419.40" y1="94.11" x2="422.40" y2="94.11" stroke="#111" stroke-width="0.85" />
<text transform="translate(416,95.31) scale(1,1)" font-size="3.6" fill="#444" text-anchor="end">Cardiac Myocytes</text>
<rect x="425.60" y="96.24" width="16.90" height="3.93" fill="#76a44a" />
<line x1="419.40" y1="98.24" x2="422.40" y2="98.24" stroke="#111" stroke-width="0.85" />
<text transform="translate(416,99.44) scale(1,1)" font-size="3.6" fill="#444" text-anchor="end">Ovary</text>
<rect x="425.60" y="100.37" width="16.70" height="3.93" fill="#74a24a" />
<line x1="419.40" y1="102.37" x2="422.40" y2="102.37" stroke="#111" stroke-width="0.85" />
<text transform="translate(416,103.57) scale(1,1)" font-size="3.6" fill="#444" text-anchor="end">Trachea</text>
<rect x="425.60" y="104.50" width="16.50" height="3.93" fill="#74a24a" />
<line x1="419.40" y1="106.50" x2="422.40" y2="106.50" stroke="#111" stroke-width="0.85" />
<text transform="translate(416,107.70) scale(1,1)" font-size="3.6" fill="#444" text-anchor="end">Colon</text>
<rect x="425.60" y="108.63" width="16.20" height="3.93" fill="#72a24a" />
<line x1="419.40" y1="110.63" x2="422.40" y2="110.63" stroke="#111" stroke-width="0.85" />
<text transform="translate(416,111.83) scale(1,1)" font-size="3.6" fill="#444" text-anchor="end">CD56+ NK Cells</text>
<rect x="425.60" y="112.76" width="16.00" height="3.93" fill="#72a24a" />
<line x1="419.40" y1="114.76" x2="422.40" y2="114.76" stroke="#111" stroke-width="0.85" />
<text transform="translate(416,115.96) scale(1,1)" font-size="3.6" fill="#444" text-anchor="end">CD8+ T Cells</text>
<rect x="425.60" y="116.89" width="14.80" height="3.93" fill="#70a048" />
<line x1="419.40" y1="118.89" x2="422.40" y2="118.89" stroke="#111" stroke-width="0.85" />
<text transform="translate(416,120.09) scale(1,1)" font-size="3.6" fill="#444" text-anchor="end">CD14+ Monocytes</text>
<rect x="425.60" y="121.02" width="14.60" height="3.93" fill="#70a048" />
<line x1="419.40" y1="123.02" x2="422.40" y2="123.02" stroke="#111" stroke-width="0.85" />
<text transform="translate(416,124.22) scale(1,1)" font-size="3.6" fill="#444" text-anchor="end">Appendix</text>
<rect x="425.60" y="125.15" width="14.00" height="3.93" fill="#70a048" />
<line x1="419.40" y1="127.15" x2="422.40" y2="127.15" stroke="#111" stroke-width="0.85" />
<text transform="translate(416,128.35) scale(1,1)" font-size="3.6" fill="#444" text-anchor="end">Leukemia Lymphoblastic (MOLT-4)</text>
<rect x="425.60" y="129.28" width="13.60" height="3.93" fill="#70a048" />
<line x1="419.40" y1="131.28" x2="422.40" y2="131.28" stroke="#111" stroke-width="0.85" />
<text transform="translate(416,132.48) scale(1,1)" font-size="3.6" fill="#444" text-anchor="end">Uterus</text>
<rect x="425.60" y="133.41" width="13.20" height="3.93" fill="#6ea048" />
<line x1="419.40" y1="135.41" x2="422.40" y2="135.41" stroke="#111" stroke-width="0.85" />
<text transform="translate(416,136.61) scale(1,1)" font-size="3.6" fill="#444" text-anchor="end">Adipocyte</text>
<rect x="425.60" y="137.54" width="12.90" height="3.93" fill="#6ea048" />
<line x1="419.40" y1="139.54" x2="422.40" y2="139.54" stroke="#111" stroke-width="0.85" />
<text transform="translate(416,140.74) scale(1,1)" font-size="3.6" fill="#444" text-anchor="end">Leukemia Chronic Myelogenous K-562</text>
<line x1="425.60" y1="142.30" x2="425.60" y2="145.50" stroke="#111" stroke-width="0.85" />
<text x="425.60" y="152.20" font-size="4.4" fill="#444" text-anchor="middle" >0</text>
<line x1="443.50" y1="142.30" x2="443.50" y2="145.50" stroke="#111" stroke-width="0.85" />
<text x="443.50" y="152.20" font-size="4.4" fill="#444" text-anchor="middle" >3</text>
<line x1="461.60" y1="142.30" x2="461.60" y2="145.50" stroke="#111" stroke-width="0.85" />
<text x="461.60" y="152.20" font-size="4.4" fill="#444" text-anchor="middle" >6</text>
<line x1="479.80" y1="142.30" x2="479.80" y2="145.50" stroke="#111" stroke-width="0.85" />
<text x="479.80" y="152.20" font-size="4.4" fill="#444" text-anchor="middle" >9</text>
<rect x="498.00" y="38.10" width="5.80" height="30.00" fill="url(#cb)" />
<text x="506.80" y="40.60" font-size="4.4" fill="#555" text-anchor="start" >10</text>
<text x="506.80" y="48.10" font-size="4.4" fill="#555" text-anchor="start" >8</text>
<text x="506.80" y="56.10" font-size="4.4" fill="#555" text-anchor="start" >6</text>
<text x="506.80" y="63.60" font-size="4.4" fill="#555" text-anchor="start" >4</text>
<line x1="422.40" y1="156.50" x2="422.40" y2="277.80" stroke="#111" stroke-width="1.2" />
<line x1="421.80" y1="277.30" x2="494.90" y2="277.30" stroke="#111" stroke-width="1.1" />
<rect x="425.60" y="157.40" width="65.20" height="3.93" fill="#c0513a" />
<line x1="419.40" y1="159.40" x2="422.40" y2="159.40" stroke="#111" stroke-width="0.85" />
<text transform="translate(416,160.60) scale(1,1)" font-size="3.6" fill="#444" text-anchor="end">CD33+ Myeloid</text>
<rect x="425.60" y="161.53" width="64.00" height="3.93" fill="#c0513a" />
<line x1="419.40" y1="163.53" x2="422.40" y2="163.53" stroke="#111" stroke-width="0.85" />
<text transform="translate(416,164.73) scale(1,1)" font-size="3.6" fill="#444" text-anchor="end">CD14+ Monocytes</text>
<rect x="425.60" y="165.66" width="46.40" height="3.93" fill="#d88a3a" />
<line x1="419.40" y1="167.66" x2="422.40" y2="167.66" stroke="#111" stroke-width="0.85" />
<text transform="translate(416,168.86) scale(1,1)" font-size="3.6" fill="#444" text-anchor="end">BDCA4+ Dentritic Cells</text>
<rect x="425.60" y="169.79" width="46.40" height="3.93" fill="#d88a3a" />
<line x1="419.40" y1="171.79" x2="422.40" y2="171.79" stroke="#111" stroke-width="0.85" />
<text transform="translate(416,172.99) scale(1,1)" font-size="3.6" fill="#444" text-anchor="end">Whole Blood</text>
<rect x="425.60" y="173.92" width="38.20" height="3.93" fill="#d9a03c" />
<line x1="419.40" y1="175.92" x2="422.40" y2="175.92" stroke="#111" stroke-width="0.85" />
<text transform="translate(416,177.12) scale(1,1)" font-size="3.6" fill="#444" text-anchor="end">Bone Marrow</text>
<rect x="425.60" y="178.05" width="15.80" height="3.93" fill="#90b450" />
<line x1="419.40" y1="180.05" x2="422.40" y2="180.05" stroke="#111" stroke-width="0.85" />
<text transform="translate(416,181.25) scale(1,1)" font-size="3.6" fill="#444" text-anchor="end">Lung</text>
<rect x="425.60" y="182.18" width="15.40" height="3.93" fill="#8cb24e" />
<line x1="419.40" y1="184.18" x2="422.40" y2="184.18" stroke="#111" stroke-width="0.85" />
<text transform="translate(416,185.38) scale(1,1)" font-size="3.6" fill="#444" text-anchor="end">CD56+ NK Cells</text>
<rect x="425.60" y="186.31" width="13.40" height="3.93" fill="#88ae4e" />
<line x1="419.40" y1="188.31" x2="422.40" y2="188.31" stroke="#111" stroke-width="0.85" />
<text transform="translate(416,189.51) scale(1,1)" font-size="3.6" fill="#444" text-anchor="end">Tonsil</text>
<rect x="425.60" y="190.44" width="12.70" height="3.93" fill="#84ac4c" />
<line x1="419.40" y1="192.44" x2="422.40" y2="192.44" stroke="#111" stroke-width="0.85" />
<text transform="translate(416,193.64) scale(1,1)" font-size="3.6" fill="#444" text-anchor="end">Lymph Node</text>
<rect x="425.60" y="194.57" width="11.40" height="3.93" fill="#80aa4c" />
<line x1="419.40" y1="196.57" x2="422.40" y2="196.57" stroke="#111" stroke-width="0.85" />
<text transform="translate(416,197.77) scale(1,1)" font-size="3.6" fill="#444" text-anchor="end">CD19+ B cells</text>
<rect x="425.60" y="198.70" width="9.40" height="3.93" fill="#7ca84a" />
<line x1="419.40" y1="200.70" x2="422.40" y2="200.70" stroke="#111" stroke-width="0.85" />
<text transform="translate(416,201.90) scale(1,1)" font-size="3.6" fill="#444" text-anchor="end">CD34+</text>
<rect x="425.60" y="202.83" width="6.80" height="3.93" fill="#78a64a" />
<line x1="419.40" y1="204.83" x2="422.40" y2="204.83" stroke="#111" stroke-width="0.85" />
<text transform="translate(416,206.03) scale(1,1)" font-size="3.6" fill="#444" text-anchor="end">Thymus</text>
<rect x="425.60" y="206.96" width="6.60" height="3.93" fill="#72a24a" />
<line x1="419.40" y1="208.96" x2="422.40" y2="208.96" stroke="#111" stroke-width="0.85" />
<text transform="translate(416,210.16) scale(1,1)" font-size="3.6" fill="#444" text-anchor="end">Smooth Muscle</text>
<rect x="425.60" y="211.09" width="6.40" height="3.93" fill="#72a24a" />
<line x1="419.40" y1="213.09" x2="422.40" y2="213.09" stroke="#111" stroke-width="0.85" />
<text transform="translate(416,214.29) scale(1,1)" font-size="3.6" fill="#444" text-anchor="end">Lymphoma Burkitts (Raji)</text>
<rect x="425.60" y="215.22" width="6.13" height="3.93" fill="#72a24a" />
<line x1="419.40" y1="217.22" x2="422.40" y2="217.22" stroke="#111" stroke-width="0.85" />
<text transform="translate(416,218.42) scale(1,1)" font-size="3.6" fill="#444" text-anchor="end">721 B lymphoblasts</text>
<rect x="425.60" y="219.35" width="5.87" height="3.93" fill="#72a24a" />
<line x1="419.40" y1="221.35" x2="422.40" y2="221.35" stroke="#111" stroke-width="0.85" />
<text transform="translate(416,222.55) scale(1,1)" font-size="3.6" fill="#444" text-anchor="end">Placenta</text>
<rect x="425.60" y="223.48" width="5.60" height="3.93" fill="#72a24a" />
<line x1="419.40" y1="225.48" x2="422.40" y2="225.48" stroke="#111" stroke-width="0.85" />
<text transform="translate(416,226.68) scale(1,1)" font-size="3.6" fill="#444" text-anchor="end">Salivary Gland</text>
<rect x="425.60" y="227.61" width="5.33" height="3.93" fill="#72a24a" />
<line x1="419.40" y1="229.61" x2="422.40" y2="229.61" stroke="#111" stroke-width="0.85" />
<text transform="translate(416,230.81) scale(1,1)" font-size="3.6" fill="#444" text-anchor="end">Adipocyte</text>
<rect x="425.60" y="231.74" width="5.07" height="3.93" fill="#72a24a" />
<line x1="419.40" y1="233.74" x2="422.40" y2="233.74" stroke="#111" stroke-width="0.85" />
<text transform="translate(416,234.94) scale(1,1)" font-size="3.6" fill="#444" text-anchor="end">Heart</text>
<rect x="425.60" y="235.87" width="4.80" height="3.93" fill="#72a24a" />
<line x1="419.40" y1="237.87" x2="422.40" y2="237.87" stroke="#111" stroke-width="0.85" />
<text transform="translate(416,239.07) scale(1,1)" font-size="3.6" fill="#444" text-anchor="end">Small Intestine</text>
<rect x="425.60" y="240.00" width="4.53" height="3.93" fill="#72a24a" />
<line x1="419.40" y1="242.00" x2="422.40" y2="242.00" stroke="#111" stroke-width="0.85" />
<text transform="translate(416,243.20) scale(1,1)" font-size="3.6" fill="#444" text-anchor="end">Leukemia Promyelocytic HL-60</text>
<rect x="425.60" y="244.13" width="4.27" height="3.93" fill="#72a24a" />
<line x1="419.40" y1="246.13" x2="422.40" y2="246.13" stroke="#111" stroke-width="0.85" />
<text transform="translate(416,247.33) scale(1,1)" font-size="3.6" fill="#444" text-anchor="end">Cardiac Myocytes</text>
<rect x="425.60" y="248.26" width="4.00" height="3.93" fill="#72a24a" />
<line x1="419.40" y1="250.26" x2="422.40" y2="250.26" stroke="#111" stroke-width="0.85" />
<text transform="translate(416,251.46) scale(1,1)" font-size="3.6" fill="#444" text-anchor="end">Bronchial Epithelial Cells</text>
<rect x="425.60" y="252.39" width="3.73" height="3.93" fill="#72a24a" />
<line x1="419.40" y1="254.39" x2="422.40" y2="254.39" stroke="#111" stroke-width="0.85" />
<text transform="translate(416,255.59) scale(1,1)" font-size="3.6" fill="#444" text-anchor="end">Colon</text>
<rect x="425.60" y="256.52" width="3.47" height="3.93" fill="#72a24a" />
<line x1="419.40" y1="258.52" x2="422.40" y2="258.52" stroke="#111" stroke-width="0.85" />
<text transform="translate(416,259.72) scale(1,1)" font-size="3.6" fill="#444" text-anchor="end">Pancreas</text>
<rect x="425.60" y="260.65" width="3.20" height="3.93" fill="#72a24a" />
<line x1="419.40" y1="262.65" x2="422.40" y2="262.65" stroke="#111" stroke-width="0.85" />
<text transform="translate(416,263.85) scale(1,1)" font-size="3.6" fill="#444" text-anchor="end">Trachea</text>
<rect x="425.60" y="264.78" width="2.93" height="3.93" fill="#72a24a" />
<line x1="419.40" y1="266.78" x2="422.40" y2="266.78" stroke="#111" stroke-width="0.85" />
<text transform="translate(416,267.98) scale(1,1)" font-size="3.6" fill="#444" text-anchor="end">CD4+ T Cells</text>
<rect x="425.60" y="268.91" width="2.67" height="3.93" fill="#72a24a" />
<line x1="419.40" y1="270.91" x2="422.40" y2="270.91" stroke="#111" stroke-width="0.85" />
<text transform="translate(416,272.11) scale(1,1)" font-size="3.6" fill="#444" text-anchor="end">CD8+ T Cells</text>
<rect x="425.60" y="273.04" width="2.40" height="3.93" fill="#72a24a" />
<line x1="419.40" y1="275.04" x2="422.40" y2="275.04" stroke="#111" stroke-width="0.85" />
<text transform="translate(416,276.24) scale(1,1)" font-size="3.6" fill="#444" text-anchor="end">Lymphoma Burkitts (Daudi)</text>
<line x1="426.20" y1="277.30" x2="426.20" y2="280.50" stroke="#111" stroke-width="0.85" />
<text x="426.20" y="288.40" font-size="4.4" fill="#444" text-anchor="middle" >0</text>
<line x1="450.50" y1="277.30" x2="450.50" y2="280.50" stroke="#111" stroke-width="0.85" />
<text x="450.50" y="288.40" font-size="4.4" fill="#444" text-anchor="middle" >20</text>
<line x1="474.40" y1="277.30" x2="474.40" y2="280.50" stroke="#111" stroke-width="0.85" />
<text x="474.40" y="288.40" font-size="4.4" fill="#444" text-anchor="middle" >40</text>
<rect x="498.00" y="161.50" width="5.80" height="31.20" fill="url(#cb)" />
<text x="506.80" y="165.10" font-size="4.4" fill="#555" text-anchor="start" >50</text>
<text x="506.80" y="171.40" font-size="4.4" fill="#555" text-anchor="start" >40</text>
<text x="506.80" y="177.60" font-size="4.4" fill="#555" text-anchor="start" >30</text>
<text x="506.80" y="183.90" font-size="4.4" fill="#555" text-anchor="start" >20</text>
<text x="506.80" y="190.10" font-size="4.4" fill="#555" text-anchor="start" >10</text>
<text transform="translate(347.1,81.25) rotate(-90)" font-size="7.3" fill="#222" text-anchor="middle" textLength="100.9" lengthAdjust="spacingAndGlyphs">Up-regulated cell lineages by DWJM</text>
<text transform="translate(359.6,217.3) rotate(-90)" font-size="7.3" fill="#222" text-anchor="middle" textLength="109.4" lengthAdjust="spacingAndGlyphs">Down-regulated cell lineages by DWJM</text>
<text x="422.80" y="297.80" font-size="6.6" fill="#222" text-anchor="start" textLength="72.1" lengthAdjust="spacingAndGlyphs">Log10 (corrected p-value)</text>
<line x1="330.20" y1="303.30" x2="330.20" y2="364.40" stroke="#222" stroke-width="1.4" />
<line x1="327.00" y1="363.90" x2="416.00" y2="363.90" stroke="#333" stroke-width="1.3" />
<line x1="327.60" y1="363.90" x2="330.20" y2="363.90" stroke="#222" stroke-width="0.8" />
<text x="324.10" y="366.20" font-size="6.4" fill="#333" text-anchor="end" >0</text>
<line x1="327.60" y1="344.70" x2="330.20" y2="344.70" stroke="#222" stroke-width="0.8" />
<text x="324.10" y="347.00" font-size="6.4" fill="#333" text-anchor="end" >2</text>
<line x1="327.60" y1="325.50" x2="330.20" y2="325.50" stroke="#222" stroke-width="0.8" />
<text x="324.10" y="327.80" font-size="6.4" fill="#333" text-anchor="end" >4</text>
<line x1="327.60" y1="306.30" x2="330.20" y2="306.30" stroke="#222" stroke-width="0.8" />
<text x="324.10" y="308.60" font-size="6.4" fill="#333" text-anchor="end" >6</text>
<line x1="347.30" y1="363.90" x2="347.30" y2="367.10" stroke="#222" stroke-width="0.9" />
<line x1="373.60" y1="363.90" x2="373.60" y2="367.10" stroke="#222" stroke-width="0.9" />
<line x1="399.60" y1="363.90" x2="399.60" y2="367.10" stroke="#222" stroke-width="0.9" />
<text transform="translate(304,332.9) rotate(-90)" font-size="8.5" fill="#222" text-anchor="middle" textLength="51" lengthAdjust="spacingAndGlyphs">Relative gene</text>
<text transform="translate(313.9,333.7) rotate(-90)" font-size="8.5" fill="#222" text-anchor="middle" textLength="39.5" lengthAdjust="spacingAndGlyphs">expression</text>
<line x1="347.30" y1="354.40" x2="373.60" y2="311.70" stroke="#3a5a8c" stroke-width="0.95" />
<line x1="347.30" y1="354.40" x2="373.60" y2="336.60" stroke="#3a5a8c" stroke-width="0.95" />
<line x1="347.30" y1="354.40" x2="373.60" y2="342.30" stroke="#3a5a8c" stroke-width="0.95" />
<line x1="347.30" y1="354.40" x2="373.60" y2="347.30" stroke="#3a5a8c" stroke-width="0.95" />
<line x1="347.30" y1="354.40" x2="373.60" y2="352.40" stroke="#3a5a8c" stroke-width="0.95" />
<line x1="373.60" y1="311.70" x2="399.60" y2="318.50" stroke="#d23f84" stroke-width="0.95" />
<line x1="373.60" y1="336.60" x2="399.60" y2="334.00" stroke="#d23f84" stroke-width="0.95" />
<line x1="373.60" y1="342.30" x2="399.60" y2="339.50" stroke="#d23f84" stroke-width="0.95" />
<line x1="373.60" y1="347.30" x2="399.60" y2="323.70" stroke="#d23f84" stroke-width="0.95" />
<line x1="373.60" y1="352.40" x2="401.80" y2="339.50" stroke="#d23f84" stroke-width="0.95" />
<circle cx="347.3" cy="354.4" r="1.4" fill="#3a5a8c"/>
<circle cx="373.6" cy="311.7" r="1.45" fill="#f8dca0" stroke="#eeae3e" stroke-width="0.9"/>
<circle cx="399.6" cy="318.5" r="1.45" fill="#f8dca0" stroke="#eeae3e" stroke-width="0.9"/>
<circle cx="373.6" cy="336.6" r="1.45" fill="#f8e4a0" stroke="#f0c03c" stroke-width="0.9"/>
<circle cx="399.6" cy="334.0" r="1.45" fill="#f8e4a0" stroke="#f0c03c" stroke-width="0.9"/>
<circle cx="373.6" cy="342.3" r="1.45" fill="#c0a8c4" stroke="#7a4a7c" stroke-width="0.9"/>
<circle cx="399.6" cy="339.5" r="1.45" fill="#c0a8c4" stroke="#7a4a7c" stroke-width="0.9"/>
<circle cx="373.6" cy="347.3" r="1.45" fill="#e0a0b0" stroke="#b0304e" stroke-width="0.9"/>
<circle cx="399.6" cy="323.7" r="1.45" fill="#e0a0b0" stroke="#b0304e" stroke-width="0.9"/>
<circle cx="373.6" cy="352.4" r="1.45" fill="#c4e0a8" stroke="#78b050" stroke-width="0.9"/>
<circle cx="401.8" cy="339.5" r="1.45" fill="#c4e0a8" stroke="#78b050" stroke-width="0.9"/>
<text transform="translate(349.9,374.3) rotate(-45)" font-size="6.1" fill="#222" text-anchor="end">No DWJM</text>
<text transform="translate(376.2,374.3) rotate(-45)" font-size="6.1" fill="#222" text-anchor="end">DWJM_adherent</text>
<text transform="translate(402.2,374.3) rotate(-45)" font-size="6.1" fill="#222" text-anchor="end">DWJM_non_adherent</text>
<rect x="0.00" y="0.00" width="520.00" height="1.00" fill="#000" />
<rect x="0.00" y="1.00" width="520.00" height="0.50" fill="#555" />
<rect x="519.00" y="0.00" width="1.00" height="426.00" fill="#000" />
<rect x="0.00" y="425.00" width="520.00" height="1.00" fill="#444" />
<rect x="0.00" y="424.00" width="520.00" height="0.60" fill="#888" />
<rect x="0.00" y="0.00" width="1.00" height="426.00" fill="#707070" />
<rect x="1.00" y="0.00" width="1.00" height="426.00" fill="#4a4a4a" />
</svg>
</body></html>
